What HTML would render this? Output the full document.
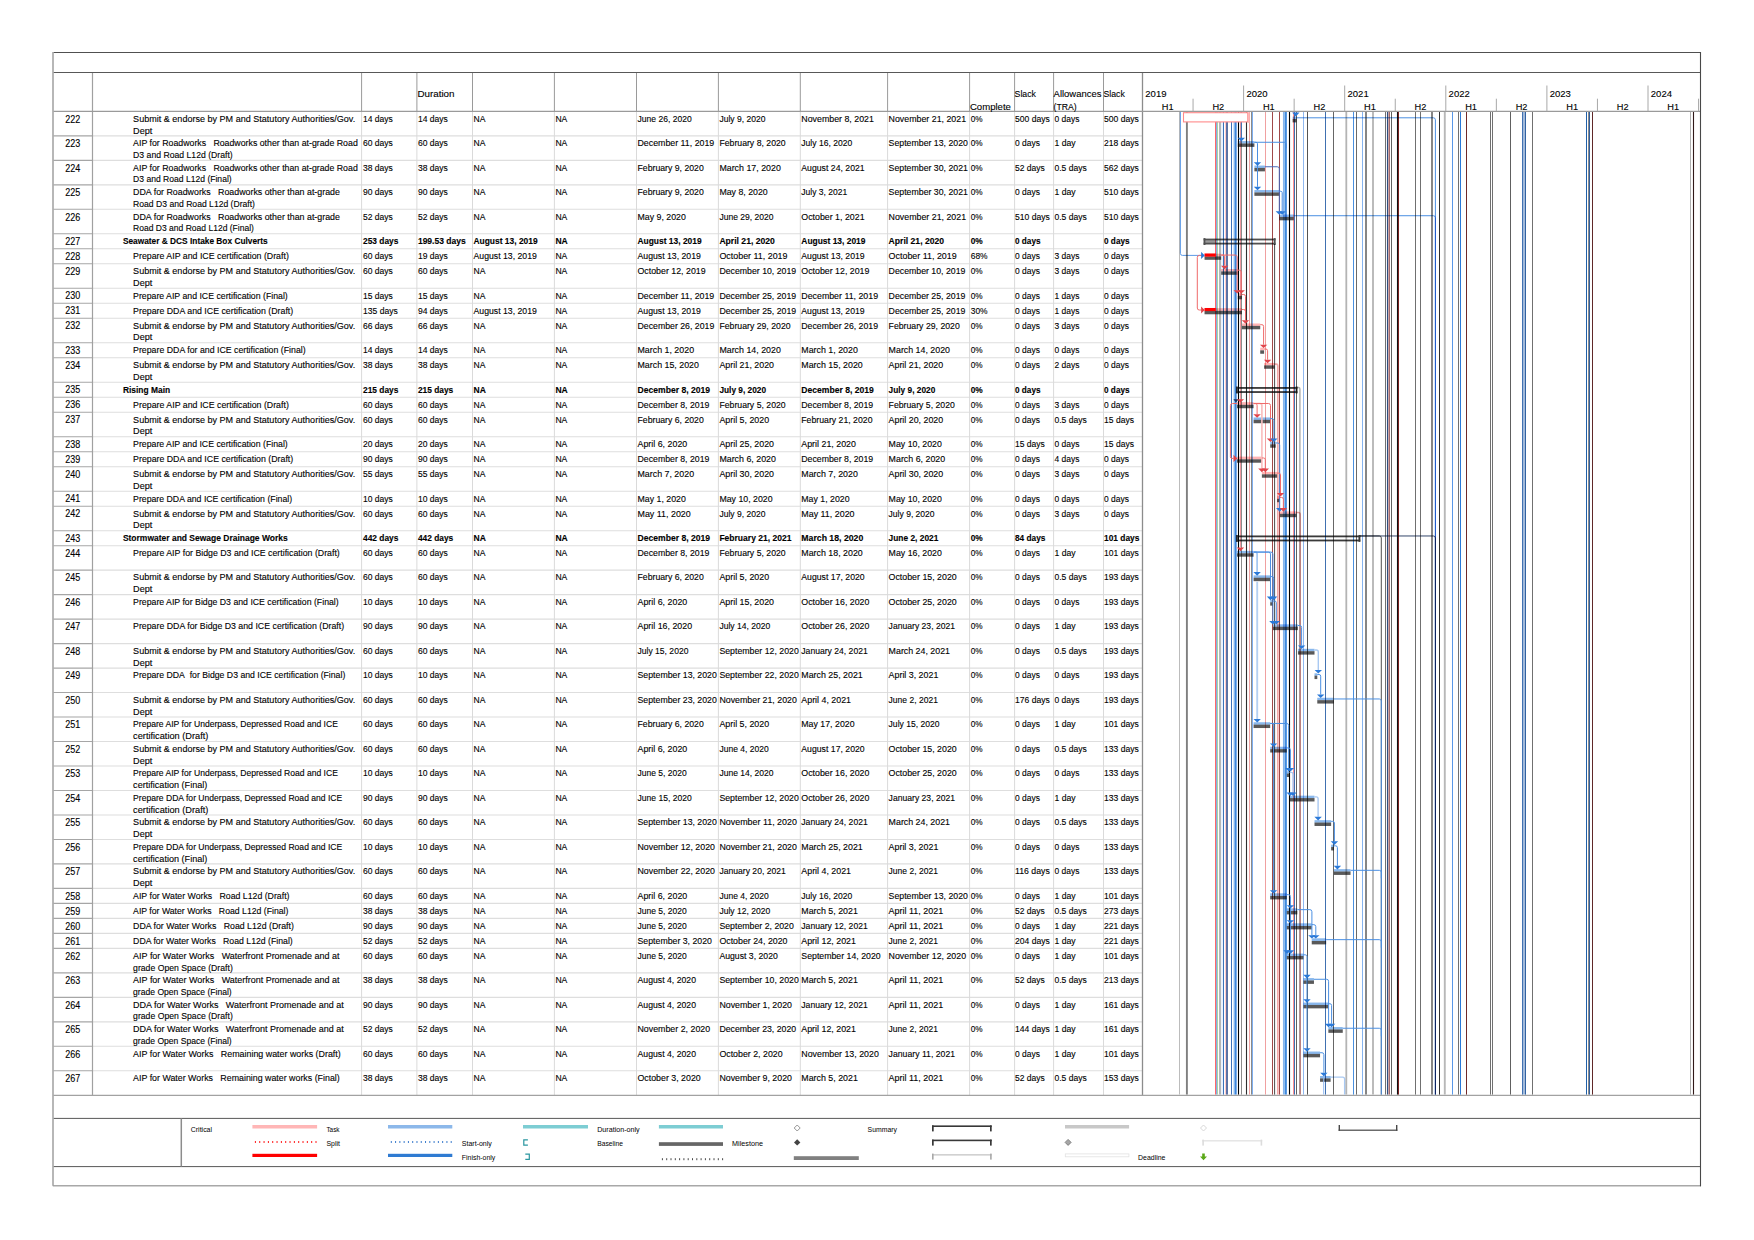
<!DOCTYPE html>
<html lang="en">
<head>
<meta charset="utf-8">
<title>Gantt chart</title>
<style>
html,body{margin:0;padding:0;background:#fff;}
body{width:1754px;height:1240px;overflow:hidden;}
svg{display:block;position:absolute;left:0;top:0;}
text{font-family:"Liberation Sans",Arial,sans-serif;fill:#000;white-space:pre;stroke:#000;stroke-width:0.12px;}
text.lg{stroke:none;}
</style>
</head>
<body>
<svg width="1754" height="1240" viewBox="0 0 1754 1240">
<defs><clipPath id="gc"><rect x="1143.1" y="112.0" width="557.4" height="982.8"/></clipPath></defs>
<rect x="0" y="0" width="1754" height="1240" fill="#ffffff"/>
<line x1="53.50" y1="135.88" x2="92.50" y2="135.88" stroke="#a6a6a6" stroke-width="1.1"/>
<line x1="92.50" y1="135.88" x2="1142.50" y2="135.88" stroke="#dedede" stroke-width="1.1"/>
<line x1="53.50" y1="160.36" x2="92.50" y2="160.36" stroke="#a6a6a6" stroke-width="1.1"/>
<line x1="92.50" y1="160.36" x2="1142.50" y2="160.36" stroke="#dedede" stroke-width="1.1"/>
<line x1="53.50" y1="184.84" x2="92.50" y2="184.84" stroke="#a6a6a6" stroke-width="1.1"/>
<line x1="92.50" y1="184.84" x2="1142.50" y2="184.84" stroke="#dedede" stroke-width="1.1"/>
<line x1="53.50" y1="209.32" x2="92.50" y2="209.32" stroke="#a6a6a6" stroke-width="1.1"/>
<line x1="92.50" y1="209.32" x2="1142.50" y2="209.32" stroke="#dedede" stroke-width="1.1"/>
<line x1="53.50" y1="233.80" x2="92.50" y2="233.80" stroke="#a6a6a6" stroke-width="1.1"/>
<line x1="92.50" y1="233.80" x2="1142.50" y2="233.80" stroke="#dedede" stroke-width="1.1"/>
<line x1="53.50" y1="248.80" x2="92.50" y2="248.80" stroke="#a6a6a6" stroke-width="1.1"/>
<line x1="92.50" y1="248.80" x2="1142.50" y2="248.80" stroke="#dedede" stroke-width="1.1"/>
<line x1="53.50" y1="263.80" x2="92.50" y2="263.80" stroke="#a6a6a6" stroke-width="1.1"/>
<line x1="92.50" y1="263.80" x2="1142.50" y2="263.80" stroke="#dedede" stroke-width="1.1"/>
<line x1="53.50" y1="288.28" x2="92.50" y2="288.28" stroke="#a6a6a6" stroke-width="1.1"/>
<line x1="92.50" y1="288.28" x2="1142.50" y2="288.28" stroke="#dedede" stroke-width="1.1"/>
<line x1="53.50" y1="303.28" x2="92.50" y2="303.28" stroke="#a6a6a6" stroke-width="1.1"/>
<line x1="92.50" y1="303.28" x2="1142.50" y2="303.28" stroke="#dedede" stroke-width="1.1"/>
<line x1="53.50" y1="318.28" x2="92.50" y2="318.28" stroke="#a6a6a6" stroke-width="1.1"/>
<line x1="92.50" y1="318.28" x2="1142.50" y2="318.28" stroke="#dedede" stroke-width="1.1"/>
<line x1="53.50" y1="342.76" x2="92.50" y2="342.76" stroke="#a6a6a6" stroke-width="1.1"/>
<line x1="92.50" y1="342.76" x2="1142.50" y2="342.76" stroke="#dedede" stroke-width="1.1"/>
<line x1="53.50" y1="357.76" x2="92.50" y2="357.76" stroke="#a6a6a6" stroke-width="1.1"/>
<line x1="92.50" y1="357.76" x2="1142.50" y2="357.76" stroke="#dedede" stroke-width="1.1"/>
<line x1="53.50" y1="382.24" x2="92.50" y2="382.24" stroke="#a6a6a6" stroke-width="1.1"/>
<line x1="92.50" y1="382.24" x2="1142.50" y2="382.24" stroke="#dedede" stroke-width="1.1"/>
<line x1="53.50" y1="397.24" x2="92.50" y2="397.24" stroke="#a6a6a6" stroke-width="1.1"/>
<line x1="92.50" y1="397.24" x2="1142.50" y2="397.24" stroke="#dedede" stroke-width="1.1"/>
<line x1="53.50" y1="412.24" x2="92.50" y2="412.24" stroke="#a6a6a6" stroke-width="1.1"/>
<line x1="92.50" y1="412.24" x2="1142.50" y2="412.24" stroke="#dedede" stroke-width="1.1"/>
<line x1="53.50" y1="436.72" x2="92.50" y2="436.72" stroke="#a6a6a6" stroke-width="1.1"/>
<line x1="92.50" y1="436.72" x2="1142.50" y2="436.72" stroke="#dedede" stroke-width="1.1"/>
<line x1="53.50" y1="451.72" x2="92.50" y2="451.72" stroke="#a6a6a6" stroke-width="1.1"/>
<line x1="92.50" y1="451.72" x2="1142.50" y2="451.72" stroke="#dedede" stroke-width="1.1"/>
<line x1="53.50" y1="466.72" x2="92.50" y2="466.72" stroke="#a6a6a6" stroke-width="1.1"/>
<line x1="92.50" y1="466.72" x2="1142.50" y2="466.72" stroke="#dedede" stroke-width="1.1"/>
<line x1="53.50" y1="491.20" x2="92.50" y2="491.20" stroke="#a6a6a6" stroke-width="1.1"/>
<line x1="92.50" y1="491.20" x2="1142.50" y2="491.20" stroke="#dedede" stroke-width="1.1"/>
<line x1="53.50" y1="506.20" x2="92.50" y2="506.20" stroke="#a6a6a6" stroke-width="1.1"/>
<line x1="92.50" y1="506.20" x2="1142.50" y2="506.20" stroke="#dedede" stroke-width="1.1"/>
<line x1="53.50" y1="530.68" x2="92.50" y2="530.68" stroke="#a6a6a6" stroke-width="1.1"/>
<line x1="92.50" y1="530.68" x2="1142.50" y2="530.68" stroke="#dedede" stroke-width="1.1"/>
<line x1="53.50" y1="545.68" x2="92.50" y2="545.68" stroke="#a6a6a6" stroke-width="1.1"/>
<line x1="92.50" y1="545.68" x2="1142.50" y2="545.68" stroke="#dedede" stroke-width="1.1"/>
<line x1="53.50" y1="570.16" x2="92.50" y2="570.16" stroke="#a6a6a6" stroke-width="1.1"/>
<line x1="92.50" y1="570.16" x2="1142.50" y2="570.16" stroke="#dedede" stroke-width="1.1"/>
<line x1="53.50" y1="594.64" x2="92.50" y2="594.64" stroke="#a6a6a6" stroke-width="1.1"/>
<line x1="92.50" y1="594.64" x2="1142.50" y2="594.64" stroke="#dedede" stroke-width="1.1"/>
<line x1="53.50" y1="619.12" x2="92.50" y2="619.12" stroke="#a6a6a6" stroke-width="1.1"/>
<line x1="92.50" y1="619.12" x2="1142.50" y2="619.12" stroke="#dedede" stroke-width="1.1"/>
<line x1="53.50" y1="643.60" x2="92.50" y2="643.60" stroke="#a6a6a6" stroke-width="1.1"/>
<line x1="92.50" y1="643.60" x2="1142.50" y2="643.60" stroke="#dedede" stroke-width="1.1"/>
<line x1="53.50" y1="668.08" x2="92.50" y2="668.08" stroke="#a6a6a6" stroke-width="1.1"/>
<line x1="92.50" y1="668.08" x2="1142.50" y2="668.08" stroke="#dedede" stroke-width="1.1"/>
<line x1="53.50" y1="692.56" x2="92.50" y2="692.56" stroke="#a6a6a6" stroke-width="1.1"/>
<line x1="92.50" y1="692.56" x2="1142.50" y2="692.56" stroke="#dedede" stroke-width="1.1"/>
<line x1="53.50" y1="717.04" x2="92.50" y2="717.04" stroke="#a6a6a6" stroke-width="1.1"/>
<line x1="92.50" y1="717.04" x2="1142.50" y2="717.04" stroke="#dedede" stroke-width="1.1"/>
<line x1="53.50" y1="741.52" x2="92.50" y2="741.52" stroke="#a6a6a6" stroke-width="1.1"/>
<line x1="92.50" y1="741.52" x2="1142.50" y2="741.52" stroke="#dedede" stroke-width="1.1"/>
<line x1="53.50" y1="766.00" x2="92.50" y2="766.00" stroke="#a6a6a6" stroke-width="1.1"/>
<line x1="92.50" y1="766.00" x2="1142.50" y2="766.00" stroke="#dedede" stroke-width="1.1"/>
<line x1="53.50" y1="790.48" x2="92.50" y2="790.48" stroke="#a6a6a6" stroke-width="1.1"/>
<line x1="92.50" y1="790.48" x2="1142.50" y2="790.48" stroke="#dedede" stroke-width="1.1"/>
<line x1="53.50" y1="814.96" x2="92.50" y2="814.96" stroke="#a6a6a6" stroke-width="1.1"/>
<line x1="92.50" y1="814.96" x2="1142.50" y2="814.96" stroke="#dedede" stroke-width="1.1"/>
<line x1="53.50" y1="839.44" x2="92.50" y2="839.44" stroke="#a6a6a6" stroke-width="1.1"/>
<line x1="92.50" y1="839.44" x2="1142.50" y2="839.44" stroke="#dedede" stroke-width="1.1"/>
<line x1="53.50" y1="863.92" x2="92.50" y2="863.92" stroke="#a6a6a6" stroke-width="1.1"/>
<line x1="92.50" y1="863.92" x2="1142.50" y2="863.92" stroke="#dedede" stroke-width="1.1"/>
<line x1="53.50" y1="888.40" x2="92.50" y2="888.40" stroke="#a6a6a6" stroke-width="1.1"/>
<line x1="92.50" y1="888.40" x2="1142.50" y2="888.40" stroke="#dedede" stroke-width="1.1"/>
<line x1="53.50" y1="903.40" x2="92.50" y2="903.40" stroke="#a6a6a6" stroke-width="1.1"/>
<line x1="92.50" y1="903.40" x2="1142.50" y2="903.40" stroke="#dedede" stroke-width="1.1"/>
<line x1="53.50" y1="918.40" x2="92.50" y2="918.40" stroke="#a6a6a6" stroke-width="1.1"/>
<line x1="92.50" y1="918.40" x2="1142.50" y2="918.40" stroke="#dedede" stroke-width="1.1"/>
<line x1="53.50" y1="933.40" x2="92.50" y2="933.40" stroke="#a6a6a6" stroke-width="1.1"/>
<line x1="92.50" y1="933.40" x2="1142.50" y2="933.40" stroke="#dedede" stroke-width="1.1"/>
<line x1="53.50" y1="948.40" x2="92.50" y2="948.40" stroke="#a6a6a6" stroke-width="1.1"/>
<line x1="92.50" y1="948.40" x2="1142.50" y2="948.40" stroke="#dedede" stroke-width="1.1"/>
<line x1="53.50" y1="972.88" x2="92.50" y2="972.88" stroke="#a6a6a6" stroke-width="1.1"/>
<line x1="92.50" y1="972.88" x2="1142.50" y2="972.88" stroke="#dedede" stroke-width="1.1"/>
<line x1="53.50" y1="997.36" x2="92.50" y2="997.36" stroke="#a6a6a6" stroke-width="1.1"/>
<line x1="92.50" y1="997.36" x2="1142.50" y2="997.36" stroke="#dedede" stroke-width="1.1"/>
<line x1="53.50" y1="1021.84" x2="92.50" y2="1021.84" stroke="#a6a6a6" stroke-width="1.1"/>
<line x1="92.50" y1="1021.84" x2="1142.50" y2="1021.84" stroke="#dedede" stroke-width="1.1"/>
<line x1="53.50" y1="1046.32" x2="92.50" y2="1046.32" stroke="#a6a6a6" stroke-width="1.1"/>
<line x1="92.50" y1="1046.32" x2="1142.50" y2="1046.32" stroke="#dedede" stroke-width="1.1"/>
<line x1="53.50" y1="1070.80" x2="92.50" y2="1070.80" stroke="#a6a6a6" stroke-width="1.1"/>
<line x1="92.50" y1="1070.80" x2="1142.50" y2="1070.80" stroke="#dedede" stroke-width="1.1"/>
<line x1="361.60" y1="111.40" x2="361.60" y2="1095.30" stroke="#dadada" stroke-width="1.0"/>
<line x1="416.90" y1="111.40" x2="416.90" y2="1095.30" stroke="#dadada" stroke-width="1.0"/>
<line x1="472.50" y1="111.40" x2="472.50" y2="1095.30" stroke="#dadada" stroke-width="1.0"/>
<line x1="554.40" y1="111.40" x2="554.40" y2="1095.30" stroke="#dadada" stroke-width="1.0"/>
<line x1="636.50" y1="111.40" x2="636.50" y2="1095.30" stroke="#dadada" stroke-width="1.0"/>
<line x1="718.40" y1="111.40" x2="718.40" y2="1095.30" stroke="#dadada" stroke-width="1.0"/>
<line x1="800.30" y1="111.40" x2="800.30" y2="1095.30" stroke="#dadada" stroke-width="1.0"/>
<line x1="887.60" y1="111.40" x2="887.60" y2="1095.30" stroke="#dadada" stroke-width="1.0"/>
<line x1="969.60" y1="111.40" x2="969.60" y2="1095.30" stroke="#dadada" stroke-width="1.0"/>
<line x1="1014.60" y1="111.40" x2="1014.60" y2="1095.30" stroke="#dadada" stroke-width="1.0"/>
<line x1="1053.60" y1="111.40" x2="1053.60" y2="1095.30" stroke="#dadada" stroke-width="1.0"/>
<line x1="1103.50" y1="111.40" x2="1103.50" y2="1095.30" stroke="#dadada" stroke-width="1.0"/>
<line x1="361.60" y1="72.50" x2="361.60" y2="111.40" stroke="#9a9a9a" stroke-width="1.0"/>
<line x1="416.90" y1="72.50" x2="416.90" y2="111.40" stroke="#9a9a9a" stroke-width="1.0"/>
<line x1="472.50" y1="72.50" x2="472.50" y2="111.40" stroke="#9a9a9a" stroke-width="1.0"/>
<line x1="554.40" y1="72.50" x2="554.40" y2="111.40" stroke="#9a9a9a" stroke-width="1.0"/>
<line x1="636.50" y1="72.50" x2="636.50" y2="111.40" stroke="#9a9a9a" stroke-width="1.0"/>
<line x1="718.40" y1="72.50" x2="718.40" y2="111.40" stroke="#9a9a9a" stroke-width="1.0"/>
<line x1="800.30" y1="72.50" x2="800.30" y2="111.40" stroke="#9a9a9a" stroke-width="1.0"/>
<line x1="887.60" y1="72.50" x2="887.60" y2="111.40" stroke="#9a9a9a" stroke-width="1.0"/>
<line x1="969.60" y1="72.50" x2="969.60" y2="111.40" stroke="#9a9a9a" stroke-width="1.0"/>
<line x1="1014.60" y1="72.50" x2="1014.60" y2="111.40" stroke="#9a9a9a" stroke-width="1.0"/>
<line x1="1053.60" y1="72.50" x2="1053.60" y2="111.40" stroke="#9a9a9a" stroke-width="1.0"/>
<line x1="1103.50" y1="72.50" x2="1103.50" y2="111.40" stroke="#9a9a9a" stroke-width="1.0"/>
<line x1="92.50" y1="72.50" x2="92.50" y2="1095.30" stroke="#a0a0a0" stroke-width="1.2"/>
<line x1="1142.50" y1="72.50" x2="1142.50" y2="1095.30" stroke="#8c8c8c" stroke-width="1.3"/>
<line x1="53.50" y1="52.50" x2="1700.50" y2="52.50" stroke="#505050" stroke-width="1.1"/>
<line x1="53.50" y1="72.50" x2="1700.50" y2="72.50" stroke="#585858" stroke-width="1.2"/>
<line x1="53.50" y1="111.40" x2="1700.50" y2="111.40" stroke="#9a9a9a" stroke-width="1.2"/>
<line x1="53.50" y1="1095.30" x2="1700.50" y2="1095.30" stroke="#a2a2a2" stroke-width="1.2"/>
<line x1="53.50" y1="1118.40" x2="1700.50" y2="1118.40" stroke="#585858" stroke-width="1.0"/>
<line x1="53.50" y1="1166.60" x2="1700.50" y2="1166.60" stroke="#585858" stroke-width="1.0"/>
<line x1="52.80" y1="1185.70" x2="1701.00" y2="1185.70" stroke="#a8a8a8" stroke-width="1.6"/>
<line x1="53.00" y1="52.00" x2="53.00" y2="1185.70" stroke="#9c9c9c" stroke-width="1.45"/>
<line x1="1700.50" y1="52.00" x2="1700.50" y2="1186.20" stroke="#484848" stroke-width="1.1"/>
<line x1="181.30" y1="1118.40" x2="181.30" y2="1166.60" stroke="#8c8c8c" stroke-width="1.5"/>
<line x1="1243.60" y1="85.50" x2="1243.60" y2="111.40" stroke="#a8a8a8" stroke-width="1.0"/>
<line x1="1344.70" y1="85.50" x2="1344.70" y2="111.40" stroke="#a8a8a8" stroke-width="1.0"/>
<line x1="1445.80" y1="85.50" x2="1445.80" y2="111.40" stroke="#a8a8a8" stroke-width="1.0"/>
<line x1="1546.90" y1="85.50" x2="1546.90" y2="111.40" stroke="#a8a8a8" stroke-width="1.0"/>
<line x1="1648.00" y1="85.50" x2="1648.00" y2="111.40" stroke="#a8a8a8" stroke-width="1.0"/>
<line x1="1193.05" y1="98.70" x2="1193.05" y2="111.40" stroke="#a8a8a8" stroke-width="1.0"/>
<line x1="1294.15" y1="98.70" x2="1294.15" y2="111.40" stroke="#a8a8a8" stroke-width="1.0"/>
<line x1="1395.25" y1="98.70" x2="1395.25" y2="111.40" stroke="#a8a8a8" stroke-width="1.0"/>
<line x1="1496.35" y1="98.70" x2="1496.35" y2="111.40" stroke="#a8a8a8" stroke-width="1.0"/>
<line x1="1597.45" y1="98.70" x2="1597.45" y2="111.40" stroke="#a8a8a8" stroke-width="1.0"/>
<line x1="1698.55" y1="98.70" x2="1698.55" y2="111.40" stroke="#a8a8a8" stroke-width="1.0"/>
<text x="417.40" y="97.00" font-size="10.00" textLength="37.08" lengthAdjust="spacingAndGlyphs" transform="matrix(1 0 0 0.83 0 16.490)">Duration</text>
<text x="969.90" y="109.80" font-size="10.00" textLength="41.05" lengthAdjust="spacingAndGlyphs" transform="matrix(1 0 0 0.83 0 18.666)">Complete</text>
<text x="1014.60" y="97.00" font-size="10.00" textLength="21.37" lengthAdjust="spacingAndGlyphs" transform="matrix(1 0 0 0.83 0 16.490)">Slack</text>
<text x="1053.60" y="97.00" font-size="10.00" textLength="47.87" lengthAdjust="spacingAndGlyphs" transform="matrix(1 0 0 0.83 0 16.490)">Allowances</text>
<text x="1053.60" y="109.80" font-size="10.00" textLength="23.15" lengthAdjust="spacingAndGlyphs" transform="matrix(1 0 0 0.83 0 18.666)">(TRA)</text>
<text x="1103.50" y="97.00" font-size="10.00" textLength="21.37" lengthAdjust="spacingAndGlyphs" transform="matrix(1 0 0 0.83 0 16.490)">Slack</text>
<text x="1145.30" y="97.00" font-size="10.00" textLength="21.19" lengthAdjust="spacingAndGlyphs" transform="matrix(1 0 0 0.83 0 16.490)">2019</text>
<text x="1161.87" y="109.80" font-size="10.00" textLength="11.81" lengthAdjust="spacingAndGlyphs" transform="matrix(1 0 0 0.83 0 18.666)">H1</text>
<text x="1212.42" y="109.80" font-size="10.00" textLength="11.81" lengthAdjust="spacingAndGlyphs" transform="matrix(1 0 0 0.83 0 18.666)">H2</text>
<text x="1246.40" y="97.00" font-size="10.00" textLength="21.19" lengthAdjust="spacingAndGlyphs" transform="matrix(1 0 0 0.83 0 16.490)">2020</text>
<text x="1262.97" y="109.80" font-size="10.00" textLength="11.81" lengthAdjust="spacingAndGlyphs" transform="matrix(1 0 0 0.83 0 18.666)">H1</text>
<text x="1313.52" y="109.80" font-size="10.00" textLength="11.81" lengthAdjust="spacingAndGlyphs" transform="matrix(1 0 0 0.83 0 18.666)">H2</text>
<text x="1347.50" y="97.00" font-size="10.00" textLength="21.19" lengthAdjust="spacingAndGlyphs" transform="matrix(1 0 0 0.83 0 16.490)">2021</text>
<text x="1364.07" y="109.80" font-size="10.00" textLength="11.81" lengthAdjust="spacingAndGlyphs" transform="matrix(1 0 0 0.83 0 18.666)">H1</text>
<text x="1414.62" y="109.80" font-size="10.00" textLength="11.81" lengthAdjust="spacingAndGlyphs" transform="matrix(1 0 0 0.83 0 18.666)">H2</text>
<text x="1448.60" y="97.00" font-size="10.00" textLength="21.19" lengthAdjust="spacingAndGlyphs" transform="matrix(1 0 0 0.83 0 16.490)">2022</text>
<text x="1465.17" y="109.80" font-size="10.00" textLength="11.81" lengthAdjust="spacingAndGlyphs" transform="matrix(1 0 0 0.83 0 18.666)">H1</text>
<text x="1515.72" y="109.80" font-size="10.00" textLength="11.81" lengthAdjust="spacingAndGlyphs" transform="matrix(1 0 0 0.83 0 18.666)">H2</text>
<text x="1549.70" y="97.00" font-size="10.00" textLength="21.19" lengthAdjust="spacingAndGlyphs" transform="matrix(1 0 0 0.83 0 16.490)">2023</text>
<text x="1566.27" y="109.80" font-size="10.00" textLength="11.81" lengthAdjust="spacingAndGlyphs" transform="matrix(1 0 0 0.83 0 18.666)">H1</text>
<text x="1616.82" y="109.80" font-size="10.00" textLength="11.81" lengthAdjust="spacingAndGlyphs" transform="matrix(1 0 0 0.83 0 18.666)">H2</text>
<text x="1650.80" y="97.00" font-size="10.00" textLength="21.19" lengthAdjust="spacingAndGlyphs" transform="matrix(1 0 0 0.83 0 16.490)">2024</text>
<text x="1667.37" y="109.80" font-size="10.00" textLength="11.81" lengthAdjust="spacingAndGlyphs" transform="matrix(1 0 0 0.83 0 18.666)">H1</text>
<text x="65.20" y="122.60" font-size="10.00" textLength="14.99" lengthAdjust="spacingAndGlyphs" transform="matrix(1 0 0 1.04 0 -4.904)">222</text>
<text x="133.10" y="121.70" font-size="9.08" textLength="222.11" lengthAdjust="spacingAndGlyphs">Submit &amp; endorse by PM and Statutory Authorities/Gov.</text>
<text x="133.10" y="133.50" font-size="9.08" textLength="19.22" lengthAdjust="spacingAndGlyphs">Dept</text>
<text x="363.00" y="121.70" font-size="9.08" textLength="29.87" lengthAdjust="spacingAndGlyphs">14 days</text>
<text x="417.90" y="121.70" font-size="9.08" textLength="29.87" lengthAdjust="spacingAndGlyphs">14 days</text>
<text x="473.50" y="121.70" font-size="9.08" textLength="11.95" lengthAdjust="spacingAndGlyphs">NA</text>
<text x="555.40" y="121.70" font-size="9.08" textLength="11.95" lengthAdjust="spacingAndGlyphs">NA</text>
<text x="637.50" y="121.70" font-size="8.99" textLength="54.21" lengthAdjust="spacingAndGlyphs">June 26, 2020</text>
<text x="719.40" y="121.70" font-size="8.99" textLength="46.01" lengthAdjust="spacingAndGlyphs">July 9, 2020</text>
<text x="801.30" y="121.70" font-size="8.99" textLength="72.61" lengthAdjust="spacingAndGlyphs">November 8, 2021</text>
<text x="888.60" y="121.70" font-size="8.99" textLength="77.50" lengthAdjust="spacingAndGlyphs">November 21, 2021</text>
<text x="970.70" y="121.70" font-size="9.08" textLength="11.92" lengthAdjust="spacingAndGlyphs">0%</text>
<text x="1015.00" y="121.70" font-size="9.08" textLength="34.81" lengthAdjust="spacingAndGlyphs">500 days</text>
<text x="1054.45" y="121.70" font-size="9.08" textLength="24.92" lengthAdjust="spacingAndGlyphs">0 days</text>
<text x="1104.05" y="121.70" font-size="9.08" textLength="34.81" lengthAdjust="spacingAndGlyphs">500 days</text>
<text x="65.20" y="147.08" font-size="10.00" textLength="14.99" lengthAdjust="spacingAndGlyphs" transform="matrix(1 0 0 1.04 0 -5.883)">223</text>
<text x="133.10" y="146.18" font-size="9.08" textLength="224.68" lengthAdjust="spacingAndGlyphs">AIP for Roadworks   Roadworks other than at-grade Road</text>
<text x="133.10" y="157.98" font-size="9.08" textLength="99.64" lengthAdjust="spacingAndGlyphs">D3 and Road L12d (Draft)</text>
<text x="363.00" y="146.18" font-size="9.08" textLength="29.87" lengthAdjust="spacingAndGlyphs">60 days</text>
<text x="417.90" y="146.18" font-size="9.08" textLength="29.87" lengthAdjust="spacingAndGlyphs">60 days</text>
<text x="473.50" y="146.18" font-size="9.08" textLength="11.95" lengthAdjust="spacingAndGlyphs">NA</text>
<text x="555.40" y="146.18" font-size="9.08" textLength="11.95" lengthAdjust="spacingAndGlyphs">NA</text>
<text x="637.50" y="146.18" font-size="8.99" textLength="76.78" lengthAdjust="spacingAndGlyphs">December 11, 2019</text>
<text x="719.40" y="146.18" font-size="8.99" textLength="66.31" lengthAdjust="spacingAndGlyphs">February 8, 2020</text>
<text x="801.30" y="146.18" font-size="8.99" textLength="50.91" lengthAdjust="spacingAndGlyphs">July 16, 2020</text>
<text x="888.60" y="146.18" font-size="8.99" textLength="79.36" lengthAdjust="spacingAndGlyphs">September 13, 2020</text>
<text x="970.70" y="146.18" font-size="9.08" textLength="11.92" lengthAdjust="spacingAndGlyphs">0%</text>
<text x="1015.00" y="146.18" font-size="9.08" textLength="24.92" lengthAdjust="spacingAndGlyphs">0 days</text>
<text x="1054.45" y="146.18" font-size="9.08" textLength="21.19" lengthAdjust="spacingAndGlyphs">1 day</text>
<text x="1104.05" y="146.18" font-size="9.08" textLength="34.81" lengthAdjust="spacingAndGlyphs">218 days</text>
<text x="65.20" y="171.56" font-size="10.00" textLength="14.99" lengthAdjust="spacingAndGlyphs" transform="matrix(1 0 0 1.04 0 -6.862)">224</text>
<text x="133.10" y="170.66" font-size="9.08" textLength="224.68" lengthAdjust="spacingAndGlyphs">AIP for Roadworks   Roadworks other than at-grade Road</text>
<text x="133.10" y="182.46" font-size="9.08" textLength="98.57" lengthAdjust="spacingAndGlyphs">D3 and Road L12d (Final)</text>
<text x="363.00" y="170.66" font-size="9.08" textLength="29.87" lengthAdjust="spacingAndGlyphs">38 days</text>
<text x="417.90" y="170.66" font-size="9.08" textLength="29.87" lengthAdjust="spacingAndGlyphs">38 days</text>
<text x="473.50" y="170.66" font-size="9.08" textLength="11.95" lengthAdjust="spacingAndGlyphs">NA</text>
<text x="555.40" y="170.66" font-size="9.08" textLength="11.95" lengthAdjust="spacingAndGlyphs">NA</text>
<text x="637.50" y="170.66" font-size="8.99" textLength="66.31" lengthAdjust="spacingAndGlyphs">February 9, 2020</text>
<text x="719.40" y="170.66" font-size="8.99" textLength="61.44" lengthAdjust="spacingAndGlyphs">March 17, 2020</text>
<text x="801.30" y="170.66" font-size="8.99" textLength="63.36" lengthAdjust="spacingAndGlyphs">August 24, 2021</text>
<text x="888.60" y="170.66" font-size="8.99" textLength="79.36" lengthAdjust="spacingAndGlyphs">September 30, 2021</text>
<text x="970.70" y="170.66" font-size="9.08" textLength="11.92" lengthAdjust="spacingAndGlyphs">0%</text>
<text x="1015.00" y="170.66" font-size="9.08" textLength="29.87" lengthAdjust="spacingAndGlyphs">52 days</text>
<text x="1054.45" y="170.66" font-size="9.08" textLength="32.33" lengthAdjust="spacingAndGlyphs">0.5 days</text>
<text x="1104.05" y="170.66" font-size="9.08" textLength="34.81" lengthAdjust="spacingAndGlyphs">562 days</text>
<text x="65.20" y="196.04" font-size="10.00" textLength="14.99" lengthAdjust="spacingAndGlyphs" transform="matrix(1 0 0 1.04 0 -7.842)">225</text>
<text x="133.10" y="195.14" font-size="9.08" textLength="206.79" lengthAdjust="spacingAndGlyphs">DDA for Roadworks   Roadworks other than at-grade</text>
<text x="133.10" y="206.94" font-size="9.08" textLength="121.89" lengthAdjust="spacingAndGlyphs">Road D3 and Road L12d (Draft)</text>
<text x="363.00" y="195.14" font-size="9.08" textLength="29.87" lengthAdjust="spacingAndGlyphs">90 days</text>
<text x="417.90" y="195.14" font-size="9.08" textLength="29.87" lengthAdjust="spacingAndGlyphs">90 days</text>
<text x="473.50" y="195.14" font-size="9.08" textLength="11.95" lengthAdjust="spacingAndGlyphs">NA</text>
<text x="555.40" y="195.14" font-size="9.08" textLength="11.95" lengthAdjust="spacingAndGlyphs">NA</text>
<text x="637.50" y="195.14" font-size="8.99" textLength="66.31" lengthAdjust="spacingAndGlyphs">February 9, 2020</text>
<text x="719.40" y="195.14" font-size="8.99" textLength="48.35" lengthAdjust="spacingAndGlyphs">May 8, 2020</text>
<text x="801.30" y="195.14" font-size="8.99" textLength="46.01" lengthAdjust="spacingAndGlyphs">July 3, 2021</text>
<text x="888.60" y="195.14" font-size="8.99" textLength="79.36" lengthAdjust="spacingAndGlyphs">September 30, 2021</text>
<text x="970.70" y="195.14" font-size="9.08" textLength="11.92" lengthAdjust="spacingAndGlyphs">0%</text>
<text x="1015.00" y="195.14" font-size="9.08" textLength="24.92" lengthAdjust="spacingAndGlyphs">0 days</text>
<text x="1054.45" y="195.14" font-size="9.08" textLength="21.19" lengthAdjust="spacingAndGlyphs">1 day</text>
<text x="1104.05" y="195.14" font-size="9.08" textLength="34.81" lengthAdjust="spacingAndGlyphs">510 days</text>
<text x="65.20" y="220.52" font-size="10.00" textLength="14.99" lengthAdjust="spacingAndGlyphs" transform="matrix(1 0 0 1.04 0 -8.821)">226</text>
<text x="133.10" y="219.62" font-size="9.08" textLength="206.79" lengthAdjust="spacingAndGlyphs">DDA for Roadworks   Roadworks other than at-grade</text>
<text x="133.10" y="231.42" font-size="9.08" textLength="120.82" lengthAdjust="spacingAndGlyphs">Road D3 and Road L12d (Final)</text>
<text x="363.00" y="219.62" font-size="9.08" textLength="29.87" lengthAdjust="spacingAndGlyphs">52 days</text>
<text x="417.90" y="219.62" font-size="9.08" textLength="29.87" lengthAdjust="spacingAndGlyphs">52 days</text>
<text x="473.50" y="219.62" font-size="9.08" textLength="11.95" lengthAdjust="spacingAndGlyphs">NA</text>
<text x="555.40" y="219.62" font-size="9.08" textLength="11.95" lengthAdjust="spacingAndGlyphs">NA</text>
<text x="637.50" y="219.62" font-size="8.99" textLength="48.35" lengthAdjust="spacingAndGlyphs">May 9, 2020</text>
<text x="719.40" y="219.62" font-size="8.99" textLength="54.21" lengthAdjust="spacingAndGlyphs">June 29, 2020</text>
<text x="801.30" y="219.62" font-size="8.99" textLength="63.24" lengthAdjust="spacingAndGlyphs">October 1, 2021</text>
<text x="888.60" y="219.62" font-size="8.99" textLength="77.50" lengthAdjust="spacingAndGlyphs">November 21, 2021</text>
<text x="970.70" y="219.62" font-size="9.08" textLength="11.92" lengthAdjust="spacingAndGlyphs">0%</text>
<text x="1015.00" y="219.62" font-size="9.08" textLength="34.81" lengthAdjust="spacingAndGlyphs">510 days</text>
<text x="1054.45" y="219.62" font-size="9.08" textLength="32.33" lengthAdjust="spacingAndGlyphs">0.5 days</text>
<text x="1104.05" y="219.62" font-size="9.08" textLength="34.81" lengthAdjust="spacingAndGlyphs">510 days</text>
<text x="65.20" y="245.00" font-size="10.00" textLength="14.99" lengthAdjust="spacingAndGlyphs" transform="matrix(1 0 0 1.04 0 -9.800)">227</text>
<text x="122.90" y="244.10" font-size="9.08" textLength="144.83" lengthAdjust="spacingAndGlyphs" font-weight="700">Seawater &amp; DCS Intake Box Culverts</text>
<text x="363.00" y="244.10" font-size="9.08" textLength="35.38" lengthAdjust="spacingAndGlyphs" font-weight="700">253 days</text>
<text x="417.90" y="244.10" font-size="9.08" textLength="47.88" lengthAdjust="spacingAndGlyphs" font-weight="700">199.53 days</text>
<text x="473.50" y="244.10" font-size="8.99" textLength="64.15" lengthAdjust="spacingAndGlyphs" font-weight="700">August 13, 2019</text>
<text x="555.40" y="244.10" font-size="9.08" textLength="12.34" lengthAdjust="spacingAndGlyphs" font-weight="700">NA</text>
<text x="637.50" y="244.10" font-size="8.99" textLength="64.15" lengthAdjust="spacingAndGlyphs" font-weight="700">August 13, 2019</text>
<text x="719.40" y="244.10" font-size="8.99" textLength="55.47" lengthAdjust="spacingAndGlyphs" font-weight="700">April 21, 2020</text>
<text x="801.30" y="244.10" font-size="8.99" textLength="64.15" lengthAdjust="spacingAndGlyphs" font-weight="700">August 13, 2019</text>
<text x="888.60" y="244.10" font-size="8.99" textLength="55.47" lengthAdjust="spacingAndGlyphs" font-weight="700">April 21, 2020</text>
<text x="970.70" y="244.10" font-size="9.08" textLength="12.06" lengthAdjust="spacingAndGlyphs" font-weight="700">0%</text>
<text x="1015.00" y="244.10" font-size="9.08" textLength="25.49" lengthAdjust="spacingAndGlyphs" font-weight="700">0 days</text>
<text x="1104.05" y="244.10" font-size="9.08" textLength="25.49" lengthAdjust="spacingAndGlyphs" font-weight="700">0 days</text>
<text x="65.20" y="260.00" font-size="10.00" textLength="14.99" lengthAdjust="spacingAndGlyphs" transform="matrix(1 0 0 1.04 0 -10.400)">228</text>
<text x="133.10" y="259.10" font-size="9.08" textLength="155.73" lengthAdjust="spacingAndGlyphs">Prepare AIP and ICE certification (Draft)</text>
<text x="363.00" y="259.10" font-size="9.08" textLength="29.87" lengthAdjust="spacingAndGlyphs">60 days</text>
<text x="417.90" y="259.10" font-size="9.08" textLength="29.87" lengthAdjust="spacingAndGlyphs">19 days</text>
<text x="473.50" y="259.10" font-size="8.99" textLength="63.36" lengthAdjust="spacingAndGlyphs">August 13, 2019</text>
<text x="555.40" y="259.10" font-size="9.08" textLength="11.95" lengthAdjust="spacingAndGlyphs">NA</text>
<text x="637.50" y="259.10" font-size="8.99" textLength="63.36" lengthAdjust="spacingAndGlyphs">August 13, 2019</text>
<text x="719.40" y="259.10" font-size="8.99" textLength="68.14" lengthAdjust="spacingAndGlyphs">October 11, 2019</text>
<text x="801.30" y="259.10" font-size="8.99" textLength="63.36" lengthAdjust="spacingAndGlyphs">August 13, 2019</text>
<text x="888.60" y="259.10" font-size="8.99" textLength="68.14" lengthAdjust="spacingAndGlyphs">October 11, 2019</text>
<text x="970.70" y="259.10" font-size="9.08" textLength="16.87" lengthAdjust="spacingAndGlyphs">68%</text>
<text x="1015.00" y="259.10" font-size="9.08" textLength="24.92" lengthAdjust="spacingAndGlyphs">0 days</text>
<text x="1054.45" y="259.10" font-size="9.08" textLength="24.92" lengthAdjust="spacingAndGlyphs">3 days</text>
<text x="1104.05" y="259.10" font-size="9.08" textLength="24.92" lengthAdjust="spacingAndGlyphs">0 days</text>
<text x="65.20" y="275.00" font-size="10.00" textLength="14.99" lengthAdjust="spacingAndGlyphs" transform="matrix(1 0 0 1.04 0 -11.000)">229</text>
<text x="133.10" y="274.10" font-size="9.08" textLength="222.11" lengthAdjust="spacingAndGlyphs">Submit &amp; endorse by PM and Statutory Authorities/Gov.</text>
<text x="133.10" y="285.90" font-size="9.08" textLength="19.22" lengthAdjust="spacingAndGlyphs">Dept</text>
<text x="363.00" y="274.10" font-size="9.08" textLength="29.87" lengthAdjust="spacingAndGlyphs">60 days</text>
<text x="417.90" y="274.10" font-size="9.08" textLength="29.87" lengthAdjust="spacingAndGlyphs">60 days</text>
<text x="473.50" y="274.10" font-size="9.08" textLength="11.95" lengthAdjust="spacingAndGlyphs">NA</text>
<text x="555.40" y="274.10" font-size="9.08" textLength="11.95" lengthAdjust="spacingAndGlyphs">NA</text>
<text x="637.50" y="274.10" font-size="8.99" textLength="68.14" lengthAdjust="spacingAndGlyphs">October 12, 2019</text>
<text x="719.40" y="274.10" font-size="8.99" textLength="76.78" lengthAdjust="spacingAndGlyphs">December 10, 2019</text>
<text x="801.30" y="274.10" font-size="8.99" textLength="68.14" lengthAdjust="spacingAndGlyphs">October 12, 2019</text>
<text x="888.60" y="274.10" font-size="8.99" textLength="76.78" lengthAdjust="spacingAndGlyphs">December 10, 2019</text>
<text x="970.70" y="274.10" font-size="9.08" textLength="11.92" lengthAdjust="spacingAndGlyphs">0%</text>
<text x="1015.00" y="274.10" font-size="9.08" textLength="24.92" lengthAdjust="spacingAndGlyphs">0 days</text>
<text x="1054.45" y="274.10" font-size="9.08" textLength="24.92" lengthAdjust="spacingAndGlyphs">3 days</text>
<text x="1104.05" y="274.10" font-size="9.08" textLength="24.92" lengthAdjust="spacingAndGlyphs">0 days</text>
<text x="65.20" y="299.48" font-size="10.00" textLength="14.99" lengthAdjust="spacingAndGlyphs" transform="matrix(1 0 0 1.04 0 -11.979)">230</text>
<text x="133.10" y="298.58" font-size="9.08" textLength="154.66" lengthAdjust="spacingAndGlyphs">Prepare AIP and ICE certification (Final)</text>
<text x="363.00" y="298.58" font-size="9.08" textLength="29.87" lengthAdjust="spacingAndGlyphs">15 days</text>
<text x="417.90" y="298.58" font-size="9.08" textLength="29.87" lengthAdjust="spacingAndGlyphs">15 days</text>
<text x="473.50" y="298.58" font-size="9.08" textLength="11.95" lengthAdjust="spacingAndGlyphs">NA</text>
<text x="555.40" y="298.58" font-size="9.08" textLength="11.95" lengthAdjust="spacingAndGlyphs">NA</text>
<text x="637.50" y="298.58" font-size="8.99" textLength="76.78" lengthAdjust="spacingAndGlyphs">December 11, 2019</text>
<text x="719.40" y="298.58" font-size="8.99" textLength="76.78" lengthAdjust="spacingAndGlyphs">December 25, 2019</text>
<text x="801.30" y="298.58" font-size="8.99" textLength="76.78" lengthAdjust="spacingAndGlyphs">December 11, 2019</text>
<text x="888.60" y="298.58" font-size="8.99" textLength="76.78" lengthAdjust="spacingAndGlyphs">December 25, 2019</text>
<text x="970.70" y="298.58" font-size="9.08" textLength="11.92" lengthAdjust="spacingAndGlyphs">0%</text>
<text x="1015.00" y="298.58" font-size="9.08" textLength="24.92" lengthAdjust="spacingAndGlyphs">0 days</text>
<text x="1054.45" y="298.58" font-size="9.08" textLength="24.92" lengthAdjust="spacingAndGlyphs">1 days</text>
<text x="1104.05" y="298.58" font-size="9.08" textLength="24.92" lengthAdjust="spacingAndGlyphs">0 days</text>
<text x="65.20" y="314.48" font-size="10.00" textLength="14.99" lengthAdjust="spacingAndGlyphs" transform="matrix(1 0 0 1.04 0 -12.579)">231</text>
<text x="133.10" y="313.58" font-size="9.08" textLength="160.10" lengthAdjust="spacingAndGlyphs">Prepare DDA and ICE certification (Draft)</text>
<text x="363.00" y="313.58" font-size="9.08" textLength="34.81" lengthAdjust="spacingAndGlyphs">135 days</text>
<text x="417.90" y="313.58" font-size="9.08" textLength="29.87" lengthAdjust="spacingAndGlyphs">94 days</text>
<text x="473.50" y="313.58" font-size="8.99" textLength="63.36" lengthAdjust="spacingAndGlyphs">August 13, 2019</text>
<text x="555.40" y="313.58" font-size="9.08" textLength="11.95" lengthAdjust="spacingAndGlyphs">NA</text>
<text x="637.50" y="313.58" font-size="8.99" textLength="63.36" lengthAdjust="spacingAndGlyphs">August 13, 2019</text>
<text x="719.40" y="313.58" font-size="8.99" textLength="76.78" lengthAdjust="spacingAndGlyphs">December 25, 2019</text>
<text x="801.30" y="313.58" font-size="8.99" textLength="63.36" lengthAdjust="spacingAndGlyphs">August 13, 2019</text>
<text x="888.60" y="313.58" font-size="8.99" textLength="76.78" lengthAdjust="spacingAndGlyphs">December 25, 2019</text>
<text x="970.70" y="313.58" font-size="9.08" textLength="16.87" lengthAdjust="spacingAndGlyphs">30%</text>
<text x="1015.00" y="313.58" font-size="9.08" textLength="24.92" lengthAdjust="spacingAndGlyphs">0 days</text>
<text x="1054.45" y="313.58" font-size="9.08" textLength="24.92" lengthAdjust="spacingAndGlyphs">1 days</text>
<text x="1104.05" y="313.58" font-size="9.08" textLength="24.92" lengthAdjust="spacingAndGlyphs">0 days</text>
<text x="65.20" y="329.48" font-size="10.00" textLength="14.99" lengthAdjust="spacingAndGlyphs" transform="matrix(1 0 0 1.04 0 -13.179)">232</text>
<text x="133.10" y="328.58" font-size="9.08" textLength="222.11" lengthAdjust="spacingAndGlyphs">Submit &amp; endorse by PM and Statutory Authorities/Gov.</text>
<text x="133.10" y="340.38" font-size="9.08" textLength="19.22" lengthAdjust="spacingAndGlyphs">Dept</text>
<text x="363.00" y="328.58" font-size="9.08" textLength="29.87" lengthAdjust="spacingAndGlyphs">66 days</text>
<text x="417.90" y="328.58" font-size="9.08" textLength="29.87" lengthAdjust="spacingAndGlyphs">66 days</text>
<text x="473.50" y="328.58" font-size="9.08" textLength="11.95" lengthAdjust="spacingAndGlyphs">NA</text>
<text x="555.40" y="328.58" font-size="9.08" textLength="11.95" lengthAdjust="spacingAndGlyphs">NA</text>
<text x="637.50" y="328.58" font-size="8.99" textLength="76.78" lengthAdjust="spacingAndGlyphs">December 26, 2019</text>
<text x="719.40" y="328.58" font-size="8.99" textLength="71.21" lengthAdjust="spacingAndGlyphs">February 29, 2020</text>
<text x="801.30" y="328.58" font-size="8.99" textLength="76.78" lengthAdjust="spacingAndGlyphs">December 26, 2019</text>
<text x="888.60" y="328.58" font-size="8.99" textLength="71.21" lengthAdjust="spacingAndGlyphs">February 29, 2020</text>
<text x="970.70" y="328.58" font-size="9.08" textLength="11.92" lengthAdjust="spacingAndGlyphs">0%</text>
<text x="1015.00" y="328.58" font-size="9.08" textLength="24.92" lengthAdjust="spacingAndGlyphs">0 days</text>
<text x="1054.45" y="328.58" font-size="9.08" textLength="24.92" lengthAdjust="spacingAndGlyphs">3 days</text>
<text x="1104.05" y="328.58" font-size="9.08" textLength="24.92" lengthAdjust="spacingAndGlyphs">0 days</text>
<text x="65.20" y="353.96" font-size="10.00" textLength="14.99" lengthAdjust="spacingAndGlyphs" transform="matrix(1 0 0 1.04 0 -14.158)">233</text>
<text x="133.10" y="353.06" font-size="9.08" textLength="172.56" lengthAdjust="spacingAndGlyphs">Prepare DDA for and ICE certification (Final)</text>
<text x="363.00" y="353.06" font-size="9.08" textLength="29.87" lengthAdjust="spacingAndGlyphs">14 days</text>
<text x="417.90" y="353.06" font-size="9.08" textLength="29.87" lengthAdjust="spacingAndGlyphs">14 days</text>
<text x="473.50" y="353.06" font-size="9.08" textLength="11.95" lengthAdjust="spacingAndGlyphs">NA</text>
<text x="555.40" y="353.06" font-size="9.08" textLength="11.95" lengthAdjust="spacingAndGlyphs">NA</text>
<text x="637.50" y="353.06" font-size="8.99" textLength="56.55" lengthAdjust="spacingAndGlyphs">March 1, 2020</text>
<text x="719.40" y="353.06" font-size="8.99" textLength="61.44" lengthAdjust="spacingAndGlyphs">March 14, 2020</text>
<text x="801.30" y="353.06" font-size="8.99" textLength="56.55" lengthAdjust="spacingAndGlyphs">March 1, 2020</text>
<text x="888.60" y="353.06" font-size="8.99" textLength="61.44" lengthAdjust="spacingAndGlyphs">March 14, 2020</text>
<text x="970.70" y="353.06" font-size="9.08" textLength="11.92" lengthAdjust="spacingAndGlyphs">0%</text>
<text x="1015.00" y="353.06" font-size="9.08" textLength="24.92" lengthAdjust="spacingAndGlyphs">0 days</text>
<text x="1054.45" y="353.06" font-size="9.08" textLength="24.92" lengthAdjust="spacingAndGlyphs">0 days</text>
<text x="1104.05" y="353.06" font-size="9.08" textLength="24.92" lengthAdjust="spacingAndGlyphs">0 days</text>
<text x="65.20" y="368.96" font-size="10.00" textLength="14.99" lengthAdjust="spacingAndGlyphs" transform="matrix(1 0 0 1.04 0 -14.758)">234</text>
<text x="133.10" y="368.06" font-size="9.08" textLength="222.11" lengthAdjust="spacingAndGlyphs">Submit &amp; endorse by PM and Statutory Authorities/Gov.</text>
<text x="133.10" y="379.86" font-size="9.08" textLength="19.22" lengthAdjust="spacingAndGlyphs">Dept</text>
<text x="363.00" y="368.06" font-size="9.08" textLength="29.87" lengthAdjust="spacingAndGlyphs">38 days</text>
<text x="417.90" y="368.06" font-size="9.08" textLength="29.87" lengthAdjust="spacingAndGlyphs">38 days</text>
<text x="473.50" y="368.06" font-size="9.08" textLength="11.95" lengthAdjust="spacingAndGlyphs">NA</text>
<text x="555.40" y="368.06" font-size="9.08" textLength="11.95" lengthAdjust="spacingAndGlyphs">NA</text>
<text x="637.50" y="368.06" font-size="8.99" textLength="61.44" lengthAdjust="spacingAndGlyphs">March 15, 2020</text>
<text x="719.40" y="368.06" font-size="8.99" textLength="54.63" lengthAdjust="spacingAndGlyphs">April 21, 2020</text>
<text x="801.30" y="368.06" font-size="8.99" textLength="61.44" lengthAdjust="spacingAndGlyphs">March 15, 2020</text>
<text x="888.60" y="368.06" font-size="8.99" textLength="54.63" lengthAdjust="spacingAndGlyphs">April 21, 2020</text>
<text x="970.70" y="368.06" font-size="9.08" textLength="11.92" lengthAdjust="spacingAndGlyphs">0%</text>
<text x="1015.00" y="368.06" font-size="9.08" textLength="24.92" lengthAdjust="spacingAndGlyphs">0 days</text>
<text x="1054.45" y="368.06" font-size="9.08" textLength="24.92" lengthAdjust="spacingAndGlyphs">2 days</text>
<text x="1104.05" y="368.06" font-size="9.08" textLength="24.92" lengthAdjust="spacingAndGlyphs">0 days</text>
<text x="65.20" y="393.44" font-size="10.00" textLength="14.99" lengthAdjust="spacingAndGlyphs" transform="matrix(1 0 0 1.04 0 -15.738)">235</text>
<text x="122.90" y="392.54" font-size="9.08" textLength="47.24" lengthAdjust="spacingAndGlyphs" font-weight="700">Rising Main</text>
<text x="363.00" y="392.54" font-size="9.08" textLength="35.38" lengthAdjust="spacingAndGlyphs" font-weight="700">215 days</text>
<text x="417.90" y="392.54" font-size="9.08" textLength="35.38" lengthAdjust="spacingAndGlyphs" font-weight="700">215 days</text>
<text x="473.50" y="392.54" font-size="9.08" textLength="12.34" lengthAdjust="spacingAndGlyphs" font-weight="700">NA</text>
<text x="555.40" y="392.54" font-size="9.08" textLength="12.34" lengthAdjust="spacingAndGlyphs" font-weight="700">NA</text>
<text x="637.50" y="392.54" font-size="8.99" textLength="72.55" lengthAdjust="spacingAndGlyphs" font-weight="700">December 8, 2019</text>
<text x="719.40" y="392.54" font-size="8.99" textLength="46.68" lengthAdjust="spacingAndGlyphs" font-weight="700">July 9, 2020</text>
<text x="801.30" y="392.54" font-size="8.99" textLength="72.55" lengthAdjust="spacingAndGlyphs" font-weight="700">December 8, 2019</text>
<text x="888.60" y="392.54" font-size="8.99" textLength="46.68" lengthAdjust="spacingAndGlyphs" font-weight="700">July 9, 2020</text>
<text x="970.70" y="392.54" font-size="9.08" textLength="12.06" lengthAdjust="spacingAndGlyphs" font-weight="700">0%</text>
<text x="1015.00" y="392.54" font-size="9.08" textLength="25.49" lengthAdjust="spacingAndGlyphs" font-weight="700">0 days</text>
<text x="1104.05" y="392.54" font-size="9.08" textLength="25.49" lengthAdjust="spacingAndGlyphs" font-weight="700">0 days</text>
<text x="65.20" y="408.44" font-size="10.00" textLength="14.99" lengthAdjust="spacingAndGlyphs" transform="matrix(1 0 0 1.04 0 -16.338)">236</text>
<text x="133.10" y="407.54" font-size="9.08" textLength="155.73" lengthAdjust="spacingAndGlyphs">Prepare AIP and ICE certification (Draft)</text>
<text x="363.00" y="407.54" font-size="9.08" textLength="29.87" lengthAdjust="spacingAndGlyphs">60 days</text>
<text x="417.90" y="407.54" font-size="9.08" textLength="29.87" lengthAdjust="spacingAndGlyphs">60 days</text>
<text x="473.50" y="407.54" font-size="9.08" textLength="11.95" lengthAdjust="spacingAndGlyphs">NA</text>
<text x="555.40" y="407.54" font-size="9.08" textLength="11.95" lengthAdjust="spacingAndGlyphs">NA</text>
<text x="637.50" y="407.54" font-size="8.99" textLength="71.88" lengthAdjust="spacingAndGlyphs">December 8, 2019</text>
<text x="719.40" y="407.54" font-size="8.99" textLength="66.31" lengthAdjust="spacingAndGlyphs">February 5, 2020</text>
<text x="801.30" y="407.54" font-size="8.99" textLength="71.88" lengthAdjust="spacingAndGlyphs">December 8, 2019</text>
<text x="888.60" y="407.54" font-size="8.99" textLength="66.31" lengthAdjust="spacingAndGlyphs">February 5, 2020</text>
<text x="970.70" y="407.54" font-size="9.08" textLength="11.92" lengthAdjust="spacingAndGlyphs">0%</text>
<text x="1015.00" y="407.54" font-size="9.08" textLength="24.92" lengthAdjust="spacingAndGlyphs">0 days</text>
<text x="1054.45" y="407.54" font-size="9.08" textLength="24.92" lengthAdjust="spacingAndGlyphs">3 days</text>
<text x="1104.05" y="407.54" font-size="9.08" textLength="24.92" lengthAdjust="spacingAndGlyphs">0 days</text>
<text x="65.20" y="423.44" font-size="10.00" textLength="14.99" lengthAdjust="spacingAndGlyphs" transform="matrix(1 0 0 1.04 0 -16.938)">237</text>
<text x="133.10" y="422.54" font-size="9.08" textLength="222.11" lengthAdjust="spacingAndGlyphs">Submit &amp; endorse by PM and Statutory Authorities/Gov.</text>
<text x="133.10" y="434.34" font-size="9.08" textLength="19.22" lengthAdjust="spacingAndGlyphs">Dept</text>
<text x="363.00" y="422.54" font-size="9.08" textLength="29.87" lengthAdjust="spacingAndGlyphs">60 days</text>
<text x="417.90" y="422.54" font-size="9.08" textLength="29.87" lengthAdjust="spacingAndGlyphs">60 days</text>
<text x="473.50" y="422.54" font-size="9.08" textLength="11.95" lengthAdjust="spacingAndGlyphs">NA</text>
<text x="555.40" y="422.54" font-size="9.08" textLength="11.95" lengthAdjust="spacingAndGlyphs">NA</text>
<text x="637.50" y="422.54" font-size="8.99" textLength="66.31" lengthAdjust="spacingAndGlyphs">February 6, 2020</text>
<text x="719.40" y="422.54" font-size="8.99" textLength="49.74" lengthAdjust="spacingAndGlyphs">April 5, 2020</text>
<text x="801.30" y="422.54" font-size="8.99" textLength="71.21" lengthAdjust="spacingAndGlyphs">February 21, 2020</text>
<text x="888.60" y="422.54" font-size="8.99" textLength="54.63" lengthAdjust="spacingAndGlyphs">April 20, 2020</text>
<text x="970.70" y="422.54" font-size="9.08" textLength="11.92" lengthAdjust="spacingAndGlyphs">0%</text>
<text x="1015.00" y="422.54" font-size="9.08" textLength="24.92" lengthAdjust="spacingAndGlyphs">0 days</text>
<text x="1054.45" y="422.54" font-size="9.08" textLength="32.33" lengthAdjust="spacingAndGlyphs">0.5 days</text>
<text x="1104.05" y="422.54" font-size="9.08" textLength="29.87" lengthAdjust="spacingAndGlyphs">15 days</text>
<text x="65.20" y="447.92" font-size="10.00" textLength="14.99" lengthAdjust="spacingAndGlyphs" transform="matrix(1 0 0 1.04 0 -17.917)">238</text>
<text x="133.10" y="447.02" font-size="9.08" textLength="154.66" lengthAdjust="spacingAndGlyphs">Prepare AIP and ICE certification (Final)</text>
<text x="363.00" y="447.02" font-size="9.08" textLength="29.87" lengthAdjust="spacingAndGlyphs">20 days</text>
<text x="417.90" y="447.02" font-size="9.08" textLength="29.87" lengthAdjust="spacingAndGlyphs">20 days</text>
<text x="473.50" y="447.02" font-size="9.08" textLength="11.95" lengthAdjust="spacingAndGlyphs">NA</text>
<text x="555.40" y="447.02" font-size="9.08" textLength="11.95" lengthAdjust="spacingAndGlyphs">NA</text>
<text x="637.50" y="447.02" font-size="8.99" textLength="49.74" lengthAdjust="spacingAndGlyphs">April 6, 2020</text>
<text x="719.40" y="447.02" font-size="8.99" textLength="54.63" lengthAdjust="spacingAndGlyphs">April 25, 2020</text>
<text x="801.30" y="447.02" font-size="8.99" textLength="54.63" lengthAdjust="spacingAndGlyphs">April 21, 2020</text>
<text x="888.60" y="447.02" font-size="8.99" textLength="53.25" lengthAdjust="spacingAndGlyphs">May 10, 2020</text>
<text x="970.70" y="447.02" font-size="9.08" textLength="11.92" lengthAdjust="spacingAndGlyphs">0%</text>
<text x="1015.00" y="447.02" font-size="9.08" textLength="29.87" lengthAdjust="spacingAndGlyphs">15 days</text>
<text x="1054.45" y="447.02" font-size="9.08" textLength="24.92" lengthAdjust="spacingAndGlyphs">0 days</text>
<text x="1104.05" y="447.02" font-size="9.08" textLength="29.87" lengthAdjust="spacingAndGlyphs">15 days</text>
<text x="65.20" y="462.92" font-size="10.00" textLength="14.99" lengthAdjust="spacingAndGlyphs" transform="matrix(1 0 0 1.04 0 -18.517)">239</text>
<text x="133.10" y="462.02" font-size="9.08" textLength="160.10" lengthAdjust="spacingAndGlyphs">Prepare DDA and ICE certification (Draft)</text>
<text x="363.00" y="462.02" font-size="9.08" textLength="29.87" lengthAdjust="spacingAndGlyphs">90 days</text>
<text x="417.90" y="462.02" font-size="9.08" textLength="29.87" lengthAdjust="spacingAndGlyphs">90 days</text>
<text x="473.50" y="462.02" font-size="9.08" textLength="11.95" lengthAdjust="spacingAndGlyphs">NA</text>
<text x="555.40" y="462.02" font-size="9.08" textLength="11.95" lengthAdjust="spacingAndGlyphs">NA</text>
<text x="637.50" y="462.02" font-size="8.99" textLength="71.88" lengthAdjust="spacingAndGlyphs">December 8, 2019</text>
<text x="719.40" y="462.02" font-size="8.99" textLength="56.55" lengthAdjust="spacingAndGlyphs">March 6, 2020</text>
<text x="801.30" y="462.02" font-size="8.99" textLength="71.88" lengthAdjust="spacingAndGlyphs">December 8, 2019</text>
<text x="888.60" y="462.02" font-size="8.99" textLength="56.55" lengthAdjust="spacingAndGlyphs">March 6, 2020</text>
<text x="970.70" y="462.02" font-size="9.08" textLength="11.92" lengthAdjust="spacingAndGlyphs">0%</text>
<text x="1015.00" y="462.02" font-size="9.08" textLength="24.92" lengthAdjust="spacingAndGlyphs">0 days</text>
<text x="1054.45" y="462.02" font-size="9.08" textLength="24.92" lengthAdjust="spacingAndGlyphs">4 days</text>
<text x="1104.05" y="462.02" font-size="9.08" textLength="24.92" lengthAdjust="spacingAndGlyphs">0 days</text>
<text x="65.20" y="477.92" font-size="10.00" textLength="14.99" lengthAdjust="spacingAndGlyphs" transform="matrix(1 0 0 1.04 0 -19.117)">240</text>
<text x="133.10" y="477.02" font-size="9.08" textLength="222.11" lengthAdjust="spacingAndGlyphs">Submit &amp; endorse by PM and Statutory Authorities/Gov.</text>
<text x="133.10" y="488.82" font-size="9.08" textLength="19.22" lengthAdjust="spacingAndGlyphs">Dept</text>
<text x="363.00" y="477.02" font-size="9.08" textLength="29.87" lengthAdjust="spacingAndGlyphs">55 days</text>
<text x="417.90" y="477.02" font-size="9.08" textLength="29.87" lengthAdjust="spacingAndGlyphs">55 days</text>
<text x="473.50" y="477.02" font-size="9.08" textLength="11.95" lengthAdjust="spacingAndGlyphs">NA</text>
<text x="555.40" y="477.02" font-size="9.08" textLength="11.95" lengthAdjust="spacingAndGlyphs">NA</text>
<text x="637.50" y="477.02" font-size="8.99" textLength="56.55" lengthAdjust="spacingAndGlyphs">March 7, 2020</text>
<text x="719.40" y="477.02" font-size="8.99" textLength="54.63" lengthAdjust="spacingAndGlyphs">April 30, 2020</text>
<text x="801.30" y="477.02" font-size="8.99" textLength="56.55" lengthAdjust="spacingAndGlyphs">March 7, 2020</text>
<text x="888.60" y="477.02" font-size="8.99" textLength="54.63" lengthAdjust="spacingAndGlyphs">April 30, 2020</text>
<text x="970.70" y="477.02" font-size="9.08" textLength="11.92" lengthAdjust="spacingAndGlyphs">0%</text>
<text x="1015.00" y="477.02" font-size="9.08" textLength="24.92" lengthAdjust="spacingAndGlyphs">0 days</text>
<text x="1054.45" y="477.02" font-size="9.08" textLength="24.92" lengthAdjust="spacingAndGlyphs">3 days</text>
<text x="1104.05" y="477.02" font-size="9.08" textLength="24.92" lengthAdjust="spacingAndGlyphs">0 days</text>
<text x="65.20" y="502.40" font-size="10.00" textLength="14.99" lengthAdjust="spacingAndGlyphs" transform="matrix(1 0 0 1.04 0 -20.096)">241</text>
<text x="133.10" y="501.50" font-size="9.08" textLength="159.03" lengthAdjust="spacingAndGlyphs">Prepare DDA and ICE certification (Final)</text>
<text x="363.00" y="501.50" font-size="9.08" textLength="29.87" lengthAdjust="spacingAndGlyphs">10 days</text>
<text x="417.90" y="501.50" font-size="9.08" textLength="29.87" lengthAdjust="spacingAndGlyphs">10 days</text>
<text x="473.50" y="501.50" font-size="9.08" textLength="11.95" lengthAdjust="spacingAndGlyphs">NA</text>
<text x="555.40" y="501.50" font-size="9.08" textLength="11.95" lengthAdjust="spacingAndGlyphs">NA</text>
<text x="637.50" y="501.50" font-size="8.99" textLength="48.35" lengthAdjust="spacingAndGlyphs">May 1, 2020</text>
<text x="719.40" y="501.50" font-size="8.99" textLength="53.25" lengthAdjust="spacingAndGlyphs">May 10, 2020</text>
<text x="801.30" y="501.50" font-size="8.99" textLength="48.35" lengthAdjust="spacingAndGlyphs">May 1, 2020</text>
<text x="888.60" y="501.50" font-size="8.99" textLength="53.25" lengthAdjust="spacingAndGlyphs">May 10, 2020</text>
<text x="970.70" y="501.50" font-size="9.08" textLength="11.92" lengthAdjust="spacingAndGlyphs">0%</text>
<text x="1015.00" y="501.50" font-size="9.08" textLength="24.92" lengthAdjust="spacingAndGlyphs">0 days</text>
<text x="1054.45" y="501.50" font-size="9.08" textLength="24.92" lengthAdjust="spacingAndGlyphs">0 days</text>
<text x="1104.05" y="501.50" font-size="9.08" textLength="24.92" lengthAdjust="spacingAndGlyphs">0 days</text>
<text x="65.20" y="517.40" font-size="10.00" textLength="14.99" lengthAdjust="spacingAndGlyphs" transform="matrix(1 0 0 1.04 0 -20.696)">242</text>
<text x="133.10" y="516.50" font-size="9.08" textLength="222.11" lengthAdjust="spacingAndGlyphs">Submit &amp; endorse by PM and Statutory Authorities/Gov.</text>
<text x="133.10" y="528.30" font-size="9.08" textLength="19.22" lengthAdjust="spacingAndGlyphs">Dept</text>
<text x="363.00" y="516.50" font-size="9.08" textLength="29.87" lengthAdjust="spacingAndGlyphs">60 days</text>
<text x="417.90" y="516.50" font-size="9.08" textLength="29.87" lengthAdjust="spacingAndGlyphs">60 days</text>
<text x="473.50" y="516.50" font-size="9.08" textLength="11.95" lengthAdjust="spacingAndGlyphs">NA</text>
<text x="555.40" y="516.50" font-size="9.08" textLength="11.95" lengthAdjust="spacingAndGlyphs">NA</text>
<text x="637.50" y="516.50" font-size="8.99" textLength="53.25" lengthAdjust="spacingAndGlyphs">May 11, 2020</text>
<text x="719.40" y="516.50" font-size="8.99" textLength="46.01" lengthAdjust="spacingAndGlyphs">July 9, 2020</text>
<text x="801.30" y="516.50" font-size="8.99" textLength="53.25" lengthAdjust="spacingAndGlyphs">May 11, 2020</text>
<text x="888.60" y="516.50" font-size="8.99" textLength="46.01" lengthAdjust="spacingAndGlyphs">July 9, 2020</text>
<text x="970.70" y="516.50" font-size="9.08" textLength="11.92" lengthAdjust="spacingAndGlyphs">0%</text>
<text x="1015.00" y="516.50" font-size="9.08" textLength="24.92" lengthAdjust="spacingAndGlyphs">0 days</text>
<text x="1054.45" y="516.50" font-size="9.08" textLength="24.92" lengthAdjust="spacingAndGlyphs">3 days</text>
<text x="1104.05" y="516.50" font-size="9.08" textLength="24.92" lengthAdjust="spacingAndGlyphs">0 days</text>
<text x="65.20" y="541.88" font-size="10.00" textLength="14.99" lengthAdjust="spacingAndGlyphs" transform="matrix(1 0 0 1.04 0 -21.675)">243</text>
<text x="122.90" y="540.98" font-size="9.08" textLength="164.83" lengthAdjust="spacingAndGlyphs" font-weight="700">Stormwater and Sewage Drainage Works</text>
<text x="363.00" y="540.98" font-size="9.08" textLength="35.38" lengthAdjust="spacingAndGlyphs" font-weight="700">442 days</text>
<text x="417.90" y="540.98" font-size="9.08" textLength="35.38" lengthAdjust="spacingAndGlyphs" font-weight="700">442 days</text>
<text x="473.50" y="540.98" font-size="9.08" textLength="12.34" lengthAdjust="spacingAndGlyphs" font-weight="700">NA</text>
<text x="555.40" y="540.98" font-size="9.08" textLength="12.34" lengthAdjust="spacingAndGlyphs" font-weight="700">NA</text>
<text x="637.50" y="540.98" font-size="8.99" textLength="72.55" lengthAdjust="spacingAndGlyphs" font-weight="700">December 8, 2019</text>
<text x="719.40" y="540.98" font-size="8.99" textLength="72.03" lengthAdjust="spacingAndGlyphs" font-weight="700">February 21, 2021</text>
<text x="801.30" y="540.98" font-size="8.99" textLength="61.99" lengthAdjust="spacingAndGlyphs" font-weight="700">March 18, 2020</text>
<text x="888.60" y="540.98" font-size="8.99" textLength="49.78" lengthAdjust="spacingAndGlyphs" font-weight="700">June 2, 2021</text>
<text x="970.70" y="540.98" font-size="9.08" textLength="12.06" lengthAdjust="spacingAndGlyphs" font-weight="700">0%</text>
<text x="1015.00" y="540.98" font-size="9.08" textLength="30.43" lengthAdjust="spacingAndGlyphs" font-weight="700">84 days</text>
<text x="1104.05" y="540.98" font-size="9.08" textLength="35.38" lengthAdjust="spacingAndGlyphs" font-weight="700">101 days</text>
<text x="65.20" y="556.88" font-size="10.00" textLength="14.99" lengthAdjust="spacingAndGlyphs" transform="matrix(1 0 0 1.04 0 -22.275)">244</text>
<text x="133.10" y="555.98" font-size="9.08" textLength="206.67" lengthAdjust="spacingAndGlyphs">Prepare AIP for Bidge D3 and ICE certification (Draft)</text>
<text x="363.00" y="555.98" font-size="9.08" textLength="29.87" lengthAdjust="spacingAndGlyphs">60 days</text>
<text x="417.90" y="555.98" font-size="9.08" textLength="29.87" lengthAdjust="spacingAndGlyphs">60 days</text>
<text x="473.50" y="555.98" font-size="9.08" textLength="11.95" lengthAdjust="spacingAndGlyphs">NA</text>
<text x="555.40" y="555.98" font-size="9.08" textLength="11.95" lengthAdjust="spacingAndGlyphs">NA</text>
<text x="637.50" y="555.98" font-size="8.99" textLength="71.88" lengthAdjust="spacingAndGlyphs">December 8, 2019</text>
<text x="719.40" y="555.98" font-size="8.99" textLength="66.31" lengthAdjust="spacingAndGlyphs">February 5, 2020</text>
<text x="801.30" y="555.98" font-size="8.99" textLength="61.44" lengthAdjust="spacingAndGlyphs">March 18, 2020</text>
<text x="888.60" y="555.98" font-size="8.99" textLength="53.25" lengthAdjust="spacingAndGlyphs">May 16, 2020</text>
<text x="970.70" y="555.98" font-size="9.08" textLength="11.92" lengthAdjust="spacingAndGlyphs">0%</text>
<text x="1015.00" y="555.98" font-size="9.08" textLength="24.92" lengthAdjust="spacingAndGlyphs">0 days</text>
<text x="1054.45" y="555.98" font-size="9.08" textLength="21.19" lengthAdjust="spacingAndGlyphs">1 day</text>
<text x="1104.05" y="555.98" font-size="9.08" textLength="34.81" lengthAdjust="spacingAndGlyphs">101 days</text>
<text x="65.20" y="581.36" font-size="10.00" textLength="14.99" lengthAdjust="spacingAndGlyphs" transform="matrix(1 0 0 1.04 0 -23.254)">245</text>
<text x="133.10" y="580.46" font-size="9.08" textLength="222.11" lengthAdjust="spacingAndGlyphs">Submit &amp; endorse by PM and Statutory Authorities/Gov.</text>
<text x="133.10" y="592.26" font-size="9.08" textLength="19.22" lengthAdjust="spacingAndGlyphs">Dept</text>
<text x="363.00" y="580.46" font-size="9.08" textLength="29.87" lengthAdjust="spacingAndGlyphs">60 days</text>
<text x="417.90" y="580.46" font-size="9.08" textLength="29.87" lengthAdjust="spacingAndGlyphs">60 days</text>
<text x="473.50" y="580.46" font-size="9.08" textLength="11.95" lengthAdjust="spacingAndGlyphs">NA</text>
<text x="555.40" y="580.46" font-size="9.08" textLength="11.95" lengthAdjust="spacingAndGlyphs">NA</text>
<text x="637.50" y="580.46" font-size="8.99" textLength="66.31" lengthAdjust="spacingAndGlyphs">February 6, 2020</text>
<text x="719.40" y="580.46" font-size="8.99" textLength="49.74" lengthAdjust="spacingAndGlyphs">April 5, 2020</text>
<text x="801.30" y="580.46" font-size="8.99" textLength="63.36" lengthAdjust="spacingAndGlyphs">August 17, 2020</text>
<text x="888.60" y="580.46" font-size="8.99" textLength="68.14" lengthAdjust="spacingAndGlyphs">October 15, 2020</text>
<text x="970.70" y="580.46" font-size="9.08" textLength="11.92" lengthAdjust="spacingAndGlyphs">0%</text>
<text x="1015.00" y="580.46" font-size="9.08" textLength="24.92" lengthAdjust="spacingAndGlyphs">0 days</text>
<text x="1054.45" y="580.46" font-size="9.08" textLength="32.33" lengthAdjust="spacingAndGlyphs">0.5 days</text>
<text x="1104.05" y="580.46" font-size="9.08" textLength="34.81" lengthAdjust="spacingAndGlyphs">193 days</text>
<text x="65.20" y="605.84" font-size="10.00" textLength="14.99" lengthAdjust="spacingAndGlyphs" transform="matrix(1 0 0 1.04 0 -24.234)">246</text>
<text x="133.10" y="604.94" font-size="9.08" textLength="205.60" lengthAdjust="spacingAndGlyphs">Prepare AIP for Bidge D3 and ICE certification (Final)</text>
<text x="363.00" y="604.94" font-size="9.08" textLength="29.87" lengthAdjust="spacingAndGlyphs">10 days</text>
<text x="417.90" y="604.94" font-size="9.08" textLength="29.87" lengthAdjust="spacingAndGlyphs">10 days</text>
<text x="473.50" y="604.94" font-size="9.08" textLength="11.95" lengthAdjust="spacingAndGlyphs">NA</text>
<text x="555.40" y="604.94" font-size="9.08" textLength="11.95" lengthAdjust="spacingAndGlyphs">NA</text>
<text x="637.50" y="604.94" font-size="8.99" textLength="49.74" lengthAdjust="spacingAndGlyphs">April 6, 2020</text>
<text x="719.40" y="604.94" font-size="8.99" textLength="54.63" lengthAdjust="spacingAndGlyphs">April 15, 2020</text>
<text x="801.30" y="604.94" font-size="8.99" textLength="68.14" lengthAdjust="spacingAndGlyphs">October 16, 2020</text>
<text x="888.60" y="604.94" font-size="8.99" textLength="68.14" lengthAdjust="spacingAndGlyphs">October 25, 2020</text>
<text x="970.70" y="604.94" font-size="9.08" textLength="11.92" lengthAdjust="spacingAndGlyphs">0%</text>
<text x="1015.00" y="604.94" font-size="9.08" textLength="24.92" lengthAdjust="spacingAndGlyphs">0 days</text>
<text x="1054.45" y="604.94" font-size="9.08" textLength="24.92" lengthAdjust="spacingAndGlyphs">0 days</text>
<text x="1104.05" y="604.94" font-size="9.08" textLength="34.81" lengthAdjust="spacingAndGlyphs">193 days</text>
<text x="65.20" y="630.32" font-size="10.00" textLength="14.99" lengthAdjust="spacingAndGlyphs" transform="matrix(1 0 0 1.04 0 -25.213)">247</text>
<text x="133.10" y="629.42" font-size="9.08" textLength="211.04" lengthAdjust="spacingAndGlyphs">Prepare DDA for Bidge D3 and ICE certification (Draft)</text>
<text x="363.00" y="629.42" font-size="9.08" textLength="29.87" lengthAdjust="spacingAndGlyphs">90 days</text>
<text x="417.90" y="629.42" font-size="9.08" textLength="29.87" lengthAdjust="spacingAndGlyphs">90 days</text>
<text x="473.50" y="629.42" font-size="9.08" textLength="11.95" lengthAdjust="spacingAndGlyphs">NA</text>
<text x="555.40" y="629.42" font-size="9.08" textLength="11.95" lengthAdjust="spacingAndGlyphs">NA</text>
<text x="637.50" y="629.42" font-size="8.99" textLength="54.63" lengthAdjust="spacingAndGlyphs">April 16, 2020</text>
<text x="719.40" y="629.42" font-size="8.99" textLength="50.91" lengthAdjust="spacingAndGlyphs">July 14, 2020</text>
<text x="801.30" y="629.42" font-size="8.99" textLength="68.14" lengthAdjust="spacingAndGlyphs">October 26, 2020</text>
<text x="888.60" y="629.42" font-size="8.99" textLength="66.44" lengthAdjust="spacingAndGlyphs">January 23, 2021</text>
<text x="970.70" y="629.42" font-size="9.08" textLength="11.92" lengthAdjust="spacingAndGlyphs">0%</text>
<text x="1015.00" y="629.42" font-size="9.08" textLength="24.92" lengthAdjust="spacingAndGlyphs">0 days</text>
<text x="1054.45" y="629.42" font-size="9.08" textLength="21.19" lengthAdjust="spacingAndGlyphs">1 day</text>
<text x="1104.05" y="629.42" font-size="9.08" textLength="34.81" lengthAdjust="spacingAndGlyphs">193 days</text>
<text x="65.20" y="654.80" font-size="10.00" textLength="14.99" lengthAdjust="spacingAndGlyphs" transform="matrix(1 0 0 1.04 0 -26.192)">248</text>
<text x="133.10" y="653.90" font-size="9.08" textLength="222.11" lengthAdjust="spacingAndGlyphs">Submit &amp; endorse by PM and Statutory Authorities/Gov.</text>
<text x="133.10" y="665.70" font-size="9.08" textLength="19.22" lengthAdjust="spacingAndGlyphs">Dept</text>
<text x="363.00" y="653.90" font-size="9.08" textLength="29.87" lengthAdjust="spacingAndGlyphs">60 days</text>
<text x="417.90" y="653.90" font-size="9.08" textLength="29.87" lengthAdjust="spacingAndGlyphs">60 days</text>
<text x="473.50" y="653.90" font-size="9.08" textLength="11.95" lengthAdjust="spacingAndGlyphs">NA</text>
<text x="555.40" y="653.90" font-size="9.08" textLength="11.95" lengthAdjust="spacingAndGlyphs">NA</text>
<text x="637.50" y="653.90" font-size="8.99" textLength="50.91" lengthAdjust="spacingAndGlyphs">July 15, 2020</text>
<text x="719.40" y="653.90" font-size="8.99" textLength="79.36" lengthAdjust="spacingAndGlyphs">September 12, 2020</text>
<text x="801.30" y="653.90" font-size="8.99" textLength="66.44" lengthAdjust="spacingAndGlyphs">January 24, 2021</text>
<text x="888.60" y="653.90" font-size="8.99" textLength="61.44" lengthAdjust="spacingAndGlyphs">March 24, 2021</text>
<text x="970.70" y="653.90" font-size="9.08" textLength="11.92" lengthAdjust="spacingAndGlyphs">0%</text>
<text x="1015.00" y="653.90" font-size="9.08" textLength="24.92" lengthAdjust="spacingAndGlyphs">0 days</text>
<text x="1054.45" y="653.90" font-size="9.08" textLength="32.33" lengthAdjust="spacingAndGlyphs">0.5 days</text>
<text x="1104.05" y="653.90" font-size="9.08" textLength="34.81" lengthAdjust="spacingAndGlyphs">193 days</text>
<text x="65.20" y="679.28" font-size="10.00" textLength="14.99" lengthAdjust="spacingAndGlyphs" transform="matrix(1 0 0 1.04 0 -27.171)">249</text>
<text x="133.10" y="678.38" font-size="9.08" textLength="212.18" lengthAdjust="spacingAndGlyphs">Prepare DDA  for Bidge D3 and ICE certification (Final)</text>
<text x="363.00" y="678.38" font-size="9.08" textLength="29.87" lengthAdjust="spacingAndGlyphs">10 days</text>
<text x="417.90" y="678.38" font-size="9.08" textLength="29.87" lengthAdjust="spacingAndGlyphs">10 days</text>
<text x="473.50" y="678.38" font-size="9.08" textLength="11.95" lengthAdjust="spacingAndGlyphs">NA</text>
<text x="555.40" y="678.38" font-size="9.08" textLength="11.95" lengthAdjust="spacingAndGlyphs">NA</text>
<text x="637.50" y="678.38" font-size="8.99" textLength="79.36" lengthAdjust="spacingAndGlyphs">September 13, 2020</text>
<text x="719.40" y="678.38" font-size="8.99" textLength="79.36" lengthAdjust="spacingAndGlyphs">September 22, 2020</text>
<text x="801.30" y="678.38" font-size="8.99" textLength="61.44" lengthAdjust="spacingAndGlyphs">March 25, 2021</text>
<text x="888.60" y="678.38" font-size="8.99" textLength="49.74" lengthAdjust="spacingAndGlyphs">April 3, 2021</text>
<text x="970.70" y="678.38" font-size="9.08" textLength="11.92" lengthAdjust="spacingAndGlyphs">0%</text>
<text x="1015.00" y="678.38" font-size="9.08" textLength="24.92" lengthAdjust="spacingAndGlyphs">0 days</text>
<text x="1054.45" y="678.38" font-size="9.08" textLength="24.92" lengthAdjust="spacingAndGlyphs">0 days</text>
<text x="1104.05" y="678.38" font-size="9.08" textLength="34.81" lengthAdjust="spacingAndGlyphs">193 days</text>
<text x="65.20" y="703.76" font-size="10.00" textLength="14.99" lengthAdjust="spacingAndGlyphs" transform="matrix(1 0 0 1.04 0 -28.150)">250</text>
<text x="133.10" y="702.86" font-size="9.08" textLength="222.11" lengthAdjust="spacingAndGlyphs">Submit &amp; endorse by PM and Statutory Authorities/Gov.</text>
<text x="133.10" y="714.66" font-size="9.08" textLength="19.22" lengthAdjust="spacingAndGlyphs">Dept</text>
<text x="363.00" y="702.86" font-size="9.08" textLength="29.87" lengthAdjust="spacingAndGlyphs">60 days</text>
<text x="417.90" y="702.86" font-size="9.08" textLength="29.87" lengthAdjust="spacingAndGlyphs">60 days</text>
<text x="473.50" y="702.86" font-size="9.08" textLength="11.95" lengthAdjust="spacingAndGlyphs">NA</text>
<text x="555.40" y="702.86" font-size="9.08" textLength="11.95" lengthAdjust="spacingAndGlyphs">NA</text>
<text x="637.50" y="702.86" font-size="8.99" textLength="79.36" lengthAdjust="spacingAndGlyphs">September 23, 2020</text>
<text x="719.40" y="702.86" font-size="8.99" textLength="77.50" lengthAdjust="spacingAndGlyphs">November 21, 2020</text>
<text x="801.30" y="702.86" font-size="8.99" textLength="49.74" lengthAdjust="spacingAndGlyphs">April 4, 2021</text>
<text x="888.60" y="702.86" font-size="8.99" textLength="49.31" lengthAdjust="spacingAndGlyphs">June 2, 2021</text>
<text x="970.70" y="702.86" font-size="9.08" textLength="11.92" lengthAdjust="spacingAndGlyphs">0%</text>
<text x="1015.00" y="702.86" font-size="9.08" textLength="34.81" lengthAdjust="spacingAndGlyphs">176 days</text>
<text x="1054.45" y="702.86" font-size="9.08" textLength="24.92" lengthAdjust="spacingAndGlyphs">0 days</text>
<text x="1104.05" y="702.86" font-size="9.08" textLength="34.81" lengthAdjust="spacingAndGlyphs">193 days</text>
<text x="65.20" y="728.24" font-size="10.00" textLength="14.99" lengthAdjust="spacingAndGlyphs" transform="matrix(1 0 0 1.04 0 -29.130)">251</text>
<text x="133.10" y="727.34" font-size="9.08" textLength="204.82" lengthAdjust="spacingAndGlyphs">Prepare AIP for Underpass, Depressed Road and ICE</text>
<text x="133.10" y="739.14" font-size="9.08" textLength="75.29" lengthAdjust="spacingAndGlyphs">certification (Draft)</text>
<text x="363.00" y="727.34" font-size="9.08" textLength="29.87" lengthAdjust="spacingAndGlyphs">60 days</text>
<text x="417.90" y="727.34" font-size="9.08" textLength="29.87" lengthAdjust="spacingAndGlyphs">60 days</text>
<text x="473.50" y="727.34" font-size="9.08" textLength="11.95" lengthAdjust="spacingAndGlyphs">NA</text>
<text x="555.40" y="727.34" font-size="9.08" textLength="11.95" lengthAdjust="spacingAndGlyphs">NA</text>
<text x="637.50" y="727.34" font-size="8.99" textLength="66.31" lengthAdjust="spacingAndGlyphs">February 6, 2020</text>
<text x="719.40" y="727.34" font-size="8.99" textLength="49.74" lengthAdjust="spacingAndGlyphs">April 5, 2020</text>
<text x="801.30" y="727.34" font-size="8.99" textLength="53.25" lengthAdjust="spacingAndGlyphs">May 17, 2020</text>
<text x="888.60" y="727.34" font-size="8.99" textLength="50.91" lengthAdjust="spacingAndGlyphs">July 15, 2020</text>
<text x="970.70" y="727.34" font-size="9.08" textLength="11.92" lengthAdjust="spacingAndGlyphs">0%</text>
<text x="1015.00" y="727.34" font-size="9.08" textLength="24.92" lengthAdjust="spacingAndGlyphs">0 days</text>
<text x="1054.45" y="727.34" font-size="9.08" textLength="21.19" lengthAdjust="spacingAndGlyphs">1 day</text>
<text x="1104.05" y="727.34" font-size="9.08" textLength="34.81" lengthAdjust="spacingAndGlyphs">101 days</text>
<text x="65.20" y="752.72" font-size="10.00" textLength="14.99" lengthAdjust="spacingAndGlyphs" transform="matrix(1 0 0 1.04 0 -30.109)">252</text>
<text x="133.10" y="751.82" font-size="9.08" textLength="222.11" lengthAdjust="spacingAndGlyphs">Submit &amp; endorse by PM and Statutory Authorities/Gov.</text>
<text x="133.10" y="763.62" font-size="9.08" textLength="19.22" lengthAdjust="spacingAndGlyphs">Dept</text>
<text x="363.00" y="751.82" font-size="9.08" textLength="29.87" lengthAdjust="spacingAndGlyphs">60 days</text>
<text x="417.90" y="751.82" font-size="9.08" textLength="29.87" lengthAdjust="spacingAndGlyphs">60 days</text>
<text x="473.50" y="751.82" font-size="9.08" textLength="11.95" lengthAdjust="spacingAndGlyphs">NA</text>
<text x="555.40" y="751.82" font-size="9.08" textLength="11.95" lengthAdjust="spacingAndGlyphs">NA</text>
<text x="637.50" y="751.82" font-size="8.99" textLength="49.74" lengthAdjust="spacingAndGlyphs">April 6, 2020</text>
<text x="719.40" y="751.82" font-size="8.99" textLength="49.31" lengthAdjust="spacingAndGlyphs">June 4, 2020</text>
<text x="801.30" y="751.82" font-size="8.99" textLength="63.36" lengthAdjust="spacingAndGlyphs">August 17, 2020</text>
<text x="888.60" y="751.82" font-size="8.99" textLength="68.14" lengthAdjust="spacingAndGlyphs">October 15, 2020</text>
<text x="970.70" y="751.82" font-size="9.08" textLength="11.92" lengthAdjust="spacingAndGlyphs">0%</text>
<text x="1015.00" y="751.82" font-size="9.08" textLength="24.92" lengthAdjust="spacingAndGlyphs">0 days</text>
<text x="1054.45" y="751.82" font-size="9.08" textLength="32.33" lengthAdjust="spacingAndGlyphs">0.5 days</text>
<text x="1104.05" y="751.82" font-size="9.08" textLength="34.81" lengthAdjust="spacingAndGlyphs">133 days</text>
<text x="65.20" y="777.20" font-size="10.00" textLength="14.99" lengthAdjust="spacingAndGlyphs" transform="matrix(1 0 0 1.04 0 -31.088)">253</text>
<text x="133.10" y="776.30" font-size="9.08" textLength="204.82" lengthAdjust="spacingAndGlyphs">Prepare AIP for Underpass, Depressed Road and ICE</text>
<text x="133.10" y="788.10" font-size="9.08" textLength="74.22" lengthAdjust="spacingAndGlyphs">certification (Final)</text>
<text x="363.00" y="776.30" font-size="9.08" textLength="29.87" lengthAdjust="spacingAndGlyphs">10 days</text>
<text x="417.90" y="776.30" font-size="9.08" textLength="29.87" lengthAdjust="spacingAndGlyphs">10 days</text>
<text x="473.50" y="776.30" font-size="9.08" textLength="11.95" lengthAdjust="spacingAndGlyphs">NA</text>
<text x="555.40" y="776.30" font-size="9.08" textLength="11.95" lengthAdjust="spacingAndGlyphs">NA</text>
<text x="637.50" y="776.30" font-size="8.99" textLength="49.31" lengthAdjust="spacingAndGlyphs">June 5, 2020</text>
<text x="719.40" y="776.30" font-size="8.99" textLength="54.21" lengthAdjust="spacingAndGlyphs">June 14, 2020</text>
<text x="801.30" y="776.30" font-size="8.99" textLength="68.14" lengthAdjust="spacingAndGlyphs">October 16, 2020</text>
<text x="888.60" y="776.30" font-size="8.99" textLength="68.14" lengthAdjust="spacingAndGlyphs">October 25, 2020</text>
<text x="970.70" y="776.30" font-size="9.08" textLength="11.92" lengthAdjust="spacingAndGlyphs">0%</text>
<text x="1015.00" y="776.30" font-size="9.08" textLength="24.92" lengthAdjust="spacingAndGlyphs">0 days</text>
<text x="1054.45" y="776.30" font-size="9.08" textLength="24.92" lengthAdjust="spacingAndGlyphs">0 days</text>
<text x="1104.05" y="776.30" font-size="9.08" textLength="34.81" lengthAdjust="spacingAndGlyphs">133 days</text>
<text x="65.20" y="801.68" font-size="10.00" textLength="14.99" lengthAdjust="spacingAndGlyphs" transform="matrix(1 0 0 1.04 0 -32.067)">254</text>
<text x="133.10" y="800.78" font-size="9.08" textLength="209.18" lengthAdjust="spacingAndGlyphs">Prepare DDA for Underpass, Depressed Road and ICE</text>
<text x="133.10" y="812.58" font-size="9.08" textLength="75.29" lengthAdjust="spacingAndGlyphs">certification (Draft)</text>
<text x="363.00" y="800.78" font-size="9.08" textLength="29.87" lengthAdjust="spacingAndGlyphs">90 days</text>
<text x="417.90" y="800.78" font-size="9.08" textLength="29.87" lengthAdjust="spacingAndGlyphs">90 days</text>
<text x="473.50" y="800.78" font-size="9.08" textLength="11.95" lengthAdjust="spacingAndGlyphs">NA</text>
<text x="555.40" y="800.78" font-size="9.08" textLength="11.95" lengthAdjust="spacingAndGlyphs">NA</text>
<text x="637.50" y="800.78" font-size="8.99" textLength="54.21" lengthAdjust="spacingAndGlyphs">June 15, 2020</text>
<text x="719.40" y="800.78" font-size="8.99" textLength="79.36" lengthAdjust="spacingAndGlyphs">September 12, 2020</text>
<text x="801.30" y="800.78" font-size="8.99" textLength="68.14" lengthAdjust="spacingAndGlyphs">October 26, 2020</text>
<text x="888.60" y="800.78" font-size="8.99" textLength="66.44" lengthAdjust="spacingAndGlyphs">January 23, 2021</text>
<text x="970.70" y="800.78" font-size="9.08" textLength="11.92" lengthAdjust="spacingAndGlyphs">0%</text>
<text x="1015.00" y="800.78" font-size="9.08" textLength="24.92" lengthAdjust="spacingAndGlyphs">0 days</text>
<text x="1054.45" y="800.78" font-size="9.08" textLength="21.19" lengthAdjust="spacingAndGlyphs">1 day</text>
<text x="1104.05" y="800.78" font-size="9.08" textLength="34.81" lengthAdjust="spacingAndGlyphs">133 days</text>
<text x="65.20" y="826.16" font-size="10.00" textLength="14.99" lengthAdjust="spacingAndGlyphs" transform="matrix(1 0 0 1.04 0 -33.046)">255</text>
<text x="133.10" y="825.26" font-size="9.08" textLength="222.11" lengthAdjust="spacingAndGlyphs">Submit &amp; endorse by PM and Statutory Authorities/Gov.</text>
<text x="133.10" y="837.06" font-size="9.08" textLength="19.22" lengthAdjust="spacingAndGlyphs">Dept</text>
<text x="363.00" y="825.26" font-size="9.08" textLength="29.87" lengthAdjust="spacingAndGlyphs">60 days</text>
<text x="417.90" y="825.26" font-size="9.08" textLength="29.87" lengthAdjust="spacingAndGlyphs">60 days</text>
<text x="473.50" y="825.26" font-size="9.08" textLength="11.95" lengthAdjust="spacingAndGlyphs">NA</text>
<text x="555.40" y="825.26" font-size="9.08" textLength="11.95" lengthAdjust="spacingAndGlyphs">NA</text>
<text x="637.50" y="825.26" font-size="8.99" textLength="79.36" lengthAdjust="spacingAndGlyphs">September 13, 2020</text>
<text x="719.40" y="825.26" font-size="8.99" textLength="77.50" lengthAdjust="spacingAndGlyphs">November 11, 2020</text>
<text x="801.30" y="825.26" font-size="8.99" textLength="66.44" lengthAdjust="spacingAndGlyphs">January 24, 2021</text>
<text x="888.60" y="825.26" font-size="8.99" textLength="61.44" lengthAdjust="spacingAndGlyphs">March 24, 2021</text>
<text x="970.70" y="825.26" font-size="9.08" textLength="11.92" lengthAdjust="spacingAndGlyphs">0%</text>
<text x="1015.00" y="825.26" font-size="9.08" textLength="24.92" lengthAdjust="spacingAndGlyphs">0 days</text>
<text x="1054.45" y="825.26" font-size="9.08" textLength="32.33" lengthAdjust="spacingAndGlyphs">0.5 days</text>
<text x="1104.05" y="825.26" font-size="9.08" textLength="34.81" lengthAdjust="spacingAndGlyphs">133 days</text>
<text x="65.20" y="850.64" font-size="10.00" textLength="14.99" lengthAdjust="spacingAndGlyphs" transform="matrix(1 0 0 1.04 0 -34.026)">256</text>
<text x="133.10" y="849.74" font-size="9.08" textLength="209.18" lengthAdjust="spacingAndGlyphs">Prepare DDA for Underpass, Depressed Road and ICE</text>
<text x="133.10" y="861.54" font-size="9.08" textLength="74.22" lengthAdjust="spacingAndGlyphs">certification (Final)</text>
<text x="363.00" y="849.74" font-size="9.08" textLength="29.87" lengthAdjust="spacingAndGlyphs">10 days</text>
<text x="417.90" y="849.74" font-size="9.08" textLength="29.87" lengthAdjust="spacingAndGlyphs">10 days</text>
<text x="473.50" y="849.74" font-size="9.08" textLength="11.95" lengthAdjust="spacingAndGlyphs">NA</text>
<text x="555.40" y="849.74" font-size="9.08" textLength="11.95" lengthAdjust="spacingAndGlyphs">NA</text>
<text x="637.50" y="849.74" font-size="8.99" textLength="77.50" lengthAdjust="spacingAndGlyphs">November 12, 2020</text>
<text x="719.40" y="849.74" font-size="8.99" textLength="77.50" lengthAdjust="spacingAndGlyphs">November 21, 2020</text>
<text x="801.30" y="849.74" font-size="8.99" textLength="61.44" lengthAdjust="spacingAndGlyphs">March 25, 2021</text>
<text x="888.60" y="849.74" font-size="8.99" textLength="49.74" lengthAdjust="spacingAndGlyphs">April 3, 2021</text>
<text x="970.70" y="849.74" font-size="9.08" textLength="11.92" lengthAdjust="spacingAndGlyphs">0%</text>
<text x="1015.00" y="849.74" font-size="9.08" textLength="24.92" lengthAdjust="spacingAndGlyphs">0 days</text>
<text x="1054.45" y="849.74" font-size="9.08" textLength="24.92" lengthAdjust="spacingAndGlyphs">0 days</text>
<text x="1104.05" y="849.74" font-size="9.08" textLength="34.81" lengthAdjust="spacingAndGlyphs">133 days</text>
<text x="65.20" y="875.12" font-size="10.00" textLength="14.99" lengthAdjust="spacingAndGlyphs" transform="matrix(1 0 0 1.04 0 -35.005)">257</text>
<text x="133.10" y="874.22" font-size="9.08" textLength="222.11" lengthAdjust="spacingAndGlyphs">Submit &amp; endorse by PM and Statutory Authorities/Gov.</text>
<text x="133.10" y="886.02" font-size="9.08" textLength="19.22" lengthAdjust="spacingAndGlyphs">Dept</text>
<text x="363.00" y="874.22" font-size="9.08" textLength="29.87" lengthAdjust="spacingAndGlyphs">60 days</text>
<text x="417.90" y="874.22" font-size="9.08" textLength="29.87" lengthAdjust="spacingAndGlyphs">60 days</text>
<text x="473.50" y="874.22" font-size="9.08" textLength="11.95" lengthAdjust="spacingAndGlyphs">NA</text>
<text x="555.40" y="874.22" font-size="9.08" textLength="11.95" lengthAdjust="spacingAndGlyphs">NA</text>
<text x="637.50" y="874.22" font-size="8.99" textLength="77.50" lengthAdjust="spacingAndGlyphs">November 22, 2020</text>
<text x="719.40" y="874.22" font-size="8.99" textLength="66.44" lengthAdjust="spacingAndGlyphs">January 20, 2021</text>
<text x="801.30" y="874.22" font-size="8.99" textLength="49.74" lengthAdjust="spacingAndGlyphs">April 4, 2021</text>
<text x="888.60" y="874.22" font-size="8.99" textLength="49.31" lengthAdjust="spacingAndGlyphs">June 2, 2021</text>
<text x="970.70" y="874.22" font-size="9.08" textLength="11.92" lengthAdjust="spacingAndGlyphs">0%</text>
<text x="1015.00" y="874.22" font-size="9.08" textLength="34.81" lengthAdjust="spacingAndGlyphs">116 days</text>
<text x="1054.45" y="874.22" font-size="9.08" textLength="24.92" lengthAdjust="spacingAndGlyphs">0 days</text>
<text x="1104.05" y="874.22" font-size="9.08" textLength="34.81" lengthAdjust="spacingAndGlyphs">133 days</text>
<text x="65.20" y="899.60" font-size="10.00" textLength="14.99" lengthAdjust="spacingAndGlyphs" transform="matrix(1 0 0 1.04 0 -35.984)">258</text>
<text x="133.10" y="898.70" font-size="9.08" textLength="156.39" lengthAdjust="spacingAndGlyphs">AIP for Water Works   Road L12d (Draft)</text>
<text x="363.00" y="898.70" font-size="9.08" textLength="29.87" lengthAdjust="spacingAndGlyphs">60 days</text>
<text x="417.90" y="898.70" font-size="9.08" textLength="29.87" lengthAdjust="spacingAndGlyphs">60 days</text>
<text x="473.50" y="898.70" font-size="9.08" textLength="11.95" lengthAdjust="spacingAndGlyphs">NA</text>
<text x="555.40" y="898.70" font-size="9.08" textLength="11.95" lengthAdjust="spacingAndGlyphs">NA</text>
<text x="637.50" y="898.70" font-size="8.99" textLength="49.74" lengthAdjust="spacingAndGlyphs">April 6, 2020</text>
<text x="719.40" y="898.70" font-size="8.99" textLength="49.31" lengthAdjust="spacingAndGlyphs">June 4, 2020</text>
<text x="801.30" y="898.70" font-size="8.99" textLength="50.91" lengthAdjust="spacingAndGlyphs">July 16, 2020</text>
<text x="888.60" y="898.70" font-size="8.99" textLength="79.36" lengthAdjust="spacingAndGlyphs">September 13, 2020</text>
<text x="970.70" y="898.70" font-size="9.08" textLength="11.92" lengthAdjust="spacingAndGlyphs">0%</text>
<text x="1015.00" y="898.70" font-size="9.08" textLength="24.92" lengthAdjust="spacingAndGlyphs">0 days</text>
<text x="1054.45" y="898.70" font-size="9.08" textLength="21.19" lengthAdjust="spacingAndGlyphs">1 day</text>
<text x="1104.05" y="898.70" font-size="9.08" textLength="34.81" lengthAdjust="spacingAndGlyphs">101 days</text>
<text x="65.20" y="914.60" font-size="10.00" textLength="14.99" lengthAdjust="spacingAndGlyphs" transform="matrix(1 0 0 1.04 0 -36.584)">259</text>
<text x="133.10" y="913.70" font-size="9.08" textLength="155.32" lengthAdjust="spacingAndGlyphs">AIP for Water Works   Road L12d (Final)</text>
<text x="363.00" y="913.70" font-size="9.08" textLength="29.87" lengthAdjust="spacingAndGlyphs">38 days</text>
<text x="417.90" y="913.70" font-size="9.08" textLength="29.87" lengthAdjust="spacingAndGlyphs">38 days</text>
<text x="473.50" y="913.70" font-size="9.08" textLength="11.95" lengthAdjust="spacingAndGlyphs">NA</text>
<text x="555.40" y="913.70" font-size="9.08" textLength="11.95" lengthAdjust="spacingAndGlyphs">NA</text>
<text x="637.50" y="913.70" font-size="8.99" textLength="49.31" lengthAdjust="spacingAndGlyphs">June 5, 2020</text>
<text x="719.40" y="913.70" font-size="8.99" textLength="50.91" lengthAdjust="spacingAndGlyphs">July 12, 2020</text>
<text x="801.30" y="913.70" font-size="8.99" textLength="56.55" lengthAdjust="spacingAndGlyphs">March 5, 2021</text>
<text x="888.60" y="913.70" font-size="8.99" textLength="54.63" lengthAdjust="spacingAndGlyphs">April 11, 2021</text>
<text x="970.70" y="913.70" font-size="9.08" textLength="11.92" lengthAdjust="spacingAndGlyphs">0%</text>
<text x="1015.00" y="913.70" font-size="9.08" textLength="29.87" lengthAdjust="spacingAndGlyphs">52 days</text>
<text x="1054.45" y="913.70" font-size="9.08" textLength="32.33" lengthAdjust="spacingAndGlyphs">0.5 days</text>
<text x="1104.05" y="913.70" font-size="9.08" textLength="34.81" lengthAdjust="spacingAndGlyphs">273 days</text>
<text x="65.20" y="929.60" font-size="10.00" textLength="14.99" lengthAdjust="spacingAndGlyphs" transform="matrix(1 0 0 1.04 0 -37.184)">260</text>
<text x="133.10" y="928.70" font-size="9.08" textLength="160.75" lengthAdjust="spacingAndGlyphs">DDA for Water Works   Road L12d (Draft)</text>
<text x="363.00" y="928.70" font-size="9.08" textLength="29.87" lengthAdjust="spacingAndGlyphs">90 days</text>
<text x="417.90" y="928.70" font-size="9.08" textLength="29.87" lengthAdjust="spacingAndGlyphs">90 days</text>
<text x="473.50" y="928.70" font-size="9.08" textLength="11.95" lengthAdjust="spacingAndGlyphs">NA</text>
<text x="555.40" y="928.70" font-size="9.08" textLength="11.95" lengthAdjust="spacingAndGlyphs">NA</text>
<text x="637.50" y="928.70" font-size="8.99" textLength="49.31" lengthAdjust="spacingAndGlyphs">June 5, 2020</text>
<text x="719.40" y="928.70" font-size="8.99" textLength="74.46" lengthAdjust="spacingAndGlyphs">September 2, 2020</text>
<text x="801.30" y="928.70" font-size="8.99" textLength="66.44" lengthAdjust="spacingAndGlyphs">January 12, 2021</text>
<text x="888.60" y="928.70" font-size="8.99" textLength="54.63" lengthAdjust="spacingAndGlyphs">April 11, 2021</text>
<text x="970.70" y="928.70" font-size="9.08" textLength="11.92" lengthAdjust="spacingAndGlyphs">0%</text>
<text x="1015.00" y="928.70" font-size="9.08" textLength="24.92" lengthAdjust="spacingAndGlyphs">0 days</text>
<text x="1054.45" y="928.70" font-size="9.08" textLength="21.19" lengthAdjust="spacingAndGlyphs">1 day</text>
<text x="1104.05" y="928.70" font-size="9.08" textLength="34.81" lengthAdjust="spacingAndGlyphs">221 days</text>
<text x="65.20" y="944.60" font-size="10.00" textLength="14.99" lengthAdjust="spacingAndGlyphs" transform="matrix(1 0 0 1.04 0 -37.784)">261</text>
<text x="133.10" y="943.70" font-size="9.08" textLength="159.69" lengthAdjust="spacingAndGlyphs">DDA for Water Works   Road L12d (Final)</text>
<text x="363.00" y="943.70" font-size="9.08" textLength="29.87" lengthAdjust="spacingAndGlyphs">52 days</text>
<text x="417.90" y="943.70" font-size="9.08" textLength="29.87" lengthAdjust="spacingAndGlyphs">52 days</text>
<text x="473.50" y="943.70" font-size="9.08" textLength="11.95" lengthAdjust="spacingAndGlyphs">NA</text>
<text x="555.40" y="943.70" font-size="9.08" textLength="11.95" lengthAdjust="spacingAndGlyphs">NA</text>
<text x="637.50" y="943.70" font-size="8.99" textLength="74.46" lengthAdjust="spacingAndGlyphs">September 3, 2020</text>
<text x="719.40" y="943.70" font-size="8.99" textLength="68.14" lengthAdjust="spacingAndGlyphs">October 24, 2020</text>
<text x="801.30" y="943.70" font-size="8.99" textLength="54.63" lengthAdjust="spacingAndGlyphs">April 12, 2021</text>
<text x="888.60" y="943.70" font-size="8.99" textLength="49.31" lengthAdjust="spacingAndGlyphs">June 2, 2021</text>
<text x="970.70" y="943.70" font-size="9.08" textLength="11.92" lengthAdjust="spacingAndGlyphs">0%</text>
<text x="1015.00" y="943.70" font-size="9.08" textLength="34.81" lengthAdjust="spacingAndGlyphs">204 days</text>
<text x="1054.45" y="943.70" font-size="9.08" textLength="21.19" lengthAdjust="spacingAndGlyphs">1 day</text>
<text x="1104.05" y="943.70" font-size="9.08" textLength="34.81" lengthAdjust="spacingAndGlyphs">221 days</text>
<text x="65.20" y="959.60" font-size="10.00" textLength="14.99" lengthAdjust="spacingAndGlyphs" transform="matrix(1 0 0 1.04 0 -38.384)">262</text>
<text x="133.10" y="958.70" font-size="9.08" textLength="206.36" lengthAdjust="spacingAndGlyphs">AIP for Water Works   Waterfront Promenade and at</text>
<text x="133.10" y="970.50" font-size="9.08" textLength="99.67" lengthAdjust="spacingAndGlyphs">grade Open Space (Draft)</text>
<text x="363.00" y="958.70" font-size="9.08" textLength="29.87" lengthAdjust="spacingAndGlyphs">60 days</text>
<text x="417.90" y="958.70" font-size="9.08" textLength="29.87" lengthAdjust="spacingAndGlyphs">60 days</text>
<text x="473.50" y="958.70" font-size="9.08" textLength="11.95" lengthAdjust="spacingAndGlyphs">NA</text>
<text x="555.40" y="958.70" font-size="9.08" textLength="11.95" lengthAdjust="spacingAndGlyphs">NA</text>
<text x="637.50" y="958.70" font-size="8.99" textLength="49.31" lengthAdjust="spacingAndGlyphs">June 5, 2020</text>
<text x="719.40" y="958.70" font-size="8.99" textLength="58.47" lengthAdjust="spacingAndGlyphs">August 3, 2020</text>
<text x="801.30" y="958.70" font-size="8.99" textLength="79.36" lengthAdjust="spacingAndGlyphs">September 14, 2020</text>
<text x="888.60" y="958.70" font-size="8.99" textLength="77.50" lengthAdjust="spacingAndGlyphs">November 12, 2020</text>
<text x="970.70" y="958.70" font-size="9.08" textLength="11.92" lengthAdjust="spacingAndGlyphs">0%</text>
<text x="1015.00" y="958.70" font-size="9.08" textLength="24.92" lengthAdjust="spacingAndGlyphs">0 days</text>
<text x="1054.45" y="958.70" font-size="9.08" textLength="21.19" lengthAdjust="spacingAndGlyphs">1 day</text>
<text x="1104.05" y="958.70" font-size="9.08" textLength="34.81" lengthAdjust="spacingAndGlyphs">101 days</text>
<text x="65.20" y="984.08" font-size="10.00" textLength="14.99" lengthAdjust="spacingAndGlyphs" transform="matrix(1 0 0 1.04 0 -39.363)">263</text>
<text x="133.10" y="983.18" font-size="9.08" textLength="206.36" lengthAdjust="spacingAndGlyphs">AIP for Water Works   Waterfront Promenade and at</text>
<text x="133.10" y="994.98" font-size="9.08" textLength="98.61" lengthAdjust="spacingAndGlyphs">grade Open Space (Final)</text>
<text x="363.00" y="983.18" font-size="9.08" textLength="29.87" lengthAdjust="spacingAndGlyphs">38 days</text>
<text x="417.90" y="983.18" font-size="9.08" textLength="29.87" lengthAdjust="spacingAndGlyphs">38 days</text>
<text x="473.50" y="983.18" font-size="9.08" textLength="11.95" lengthAdjust="spacingAndGlyphs">NA</text>
<text x="555.40" y="983.18" font-size="9.08" textLength="11.95" lengthAdjust="spacingAndGlyphs">NA</text>
<text x="637.50" y="983.18" font-size="8.99" textLength="58.47" lengthAdjust="spacingAndGlyphs">August 4, 2020</text>
<text x="719.40" y="983.18" font-size="8.99" textLength="79.36" lengthAdjust="spacingAndGlyphs">September 10, 2020</text>
<text x="801.30" y="983.18" font-size="8.99" textLength="56.55" lengthAdjust="spacingAndGlyphs">March 5, 2021</text>
<text x="888.60" y="983.18" font-size="8.99" textLength="54.63" lengthAdjust="spacingAndGlyphs">April 11, 2021</text>
<text x="970.70" y="983.18" font-size="9.08" textLength="11.92" lengthAdjust="spacingAndGlyphs">0%</text>
<text x="1015.00" y="983.18" font-size="9.08" textLength="29.87" lengthAdjust="spacingAndGlyphs">52 days</text>
<text x="1054.45" y="983.18" font-size="9.08" textLength="32.33" lengthAdjust="spacingAndGlyphs">0.5 days</text>
<text x="1104.05" y="983.18" font-size="9.08" textLength="34.81" lengthAdjust="spacingAndGlyphs">213 days</text>
<text x="65.20" y="1008.56" font-size="10.00" textLength="14.99" lengthAdjust="spacingAndGlyphs" transform="matrix(1 0 0 1.04 0 -40.342)">264</text>
<text x="133.10" y="1007.66" font-size="9.08" textLength="210.72" lengthAdjust="spacingAndGlyphs">DDA for Water Works   Waterfront Promenade and at</text>
<text x="133.10" y="1019.46" font-size="9.08" textLength="99.67" lengthAdjust="spacingAndGlyphs">grade Open Space (Draft)</text>
<text x="363.00" y="1007.66" font-size="9.08" textLength="29.87" lengthAdjust="spacingAndGlyphs">90 days</text>
<text x="417.90" y="1007.66" font-size="9.08" textLength="29.87" lengthAdjust="spacingAndGlyphs">90 days</text>
<text x="473.50" y="1007.66" font-size="9.08" textLength="11.95" lengthAdjust="spacingAndGlyphs">NA</text>
<text x="555.40" y="1007.66" font-size="9.08" textLength="11.95" lengthAdjust="spacingAndGlyphs">NA</text>
<text x="637.50" y="1007.66" font-size="8.99" textLength="58.47" lengthAdjust="spacingAndGlyphs">August 4, 2020</text>
<text x="719.40" y="1007.66" font-size="8.99" textLength="72.61" lengthAdjust="spacingAndGlyphs">November 1, 2020</text>
<text x="801.30" y="1007.66" font-size="8.99" textLength="66.44" lengthAdjust="spacingAndGlyphs">January 12, 2021</text>
<text x="888.60" y="1007.66" font-size="8.99" textLength="54.63" lengthAdjust="spacingAndGlyphs">April 11, 2021</text>
<text x="970.70" y="1007.66" font-size="9.08" textLength="11.92" lengthAdjust="spacingAndGlyphs">0%</text>
<text x="1015.00" y="1007.66" font-size="9.08" textLength="24.92" lengthAdjust="spacingAndGlyphs">0 days</text>
<text x="1054.45" y="1007.66" font-size="9.08" textLength="21.19" lengthAdjust="spacingAndGlyphs">1 day</text>
<text x="1104.05" y="1007.66" font-size="9.08" textLength="34.81" lengthAdjust="spacingAndGlyphs">161 days</text>
<text x="65.20" y="1033.04" font-size="10.00" textLength="14.99" lengthAdjust="spacingAndGlyphs" transform="matrix(1 0 0 1.04 0 -41.322)">265</text>
<text x="133.10" y="1032.14" font-size="9.08" textLength="210.72" lengthAdjust="spacingAndGlyphs">DDA for Water Works   Waterfront Promenade and at</text>
<text x="133.10" y="1043.94" font-size="9.08" textLength="98.61" lengthAdjust="spacingAndGlyphs">grade Open Space (Final)</text>
<text x="363.00" y="1032.14" font-size="9.08" textLength="29.87" lengthAdjust="spacingAndGlyphs">52 days</text>
<text x="417.90" y="1032.14" font-size="9.08" textLength="29.87" lengthAdjust="spacingAndGlyphs">52 days</text>
<text x="473.50" y="1032.14" font-size="9.08" textLength="11.95" lengthAdjust="spacingAndGlyphs">NA</text>
<text x="555.40" y="1032.14" font-size="9.08" textLength="11.95" lengthAdjust="spacingAndGlyphs">NA</text>
<text x="637.50" y="1032.14" font-size="8.99" textLength="72.61" lengthAdjust="spacingAndGlyphs">November 2, 2020</text>
<text x="719.40" y="1032.14" font-size="8.99" textLength="76.78" lengthAdjust="spacingAndGlyphs">December 23, 2020</text>
<text x="801.30" y="1032.14" font-size="8.99" textLength="54.63" lengthAdjust="spacingAndGlyphs">April 12, 2021</text>
<text x="888.60" y="1032.14" font-size="8.99" textLength="49.31" lengthAdjust="spacingAndGlyphs">June 2, 2021</text>
<text x="970.70" y="1032.14" font-size="9.08" textLength="11.92" lengthAdjust="spacingAndGlyphs">0%</text>
<text x="1015.00" y="1032.14" font-size="9.08" textLength="34.81" lengthAdjust="spacingAndGlyphs">144 days</text>
<text x="1054.45" y="1032.14" font-size="9.08" textLength="21.19" lengthAdjust="spacingAndGlyphs">1 day</text>
<text x="1104.05" y="1032.14" font-size="9.08" textLength="34.81" lengthAdjust="spacingAndGlyphs">161 days</text>
<text x="65.20" y="1057.52" font-size="10.00" textLength="14.99" lengthAdjust="spacingAndGlyphs" transform="matrix(1 0 0 1.04 0 -42.301)">266</text>
<text x="133.10" y="1056.62" font-size="9.08" textLength="207.68" lengthAdjust="spacingAndGlyphs">AIP for Water Works   Remaining water works (Draft)</text>
<text x="363.00" y="1056.62" font-size="9.08" textLength="29.87" lengthAdjust="spacingAndGlyphs">60 days</text>
<text x="417.90" y="1056.62" font-size="9.08" textLength="29.87" lengthAdjust="spacingAndGlyphs">60 days</text>
<text x="473.50" y="1056.62" font-size="9.08" textLength="11.95" lengthAdjust="spacingAndGlyphs">NA</text>
<text x="555.40" y="1056.62" font-size="9.08" textLength="11.95" lengthAdjust="spacingAndGlyphs">NA</text>
<text x="637.50" y="1056.62" font-size="8.99" textLength="58.47" lengthAdjust="spacingAndGlyphs">August 4, 2020</text>
<text x="719.40" y="1056.62" font-size="8.99" textLength="63.24" lengthAdjust="spacingAndGlyphs">October 2, 2020</text>
<text x="801.30" y="1056.62" font-size="8.99" textLength="77.50" lengthAdjust="spacingAndGlyphs">November 13, 2020</text>
<text x="888.60" y="1056.62" font-size="8.99" textLength="66.44" lengthAdjust="spacingAndGlyphs">January 11, 2021</text>
<text x="970.70" y="1056.62" font-size="9.08" textLength="11.92" lengthAdjust="spacingAndGlyphs">0%</text>
<text x="1015.00" y="1056.62" font-size="9.08" textLength="24.92" lengthAdjust="spacingAndGlyphs">0 days</text>
<text x="1054.45" y="1056.62" font-size="9.08" textLength="21.19" lengthAdjust="spacingAndGlyphs">1 day</text>
<text x="1104.05" y="1056.62" font-size="9.08" textLength="34.81" lengthAdjust="spacingAndGlyphs">101 days</text>
<text x="65.20" y="1082.00" font-size="10.00" textLength="14.99" lengthAdjust="spacingAndGlyphs" transform="matrix(1 0 0 1.04 0 -43.280)">267</text>
<text x="133.10" y="1081.10" font-size="9.08" textLength="206.61" lengthAdjust="spacingAndGlyphs">AIP for Water Works   Remaining water works (Final)</text>
<text x="363.00" y="1081.10" font-size="9.08" textLength="29.87" lengthAdjust="spacingAndGlyphs">38 days</text>
<text x="417.90" y="1081.10" font-size="9.08" textLength="29.87" lengthAdjust="spacingAndGlyphs">38 days</text>
<text x="473.50" y="1081.10" font-size="9.08" textLength="11.95" lengthAdjust="spacingAndGlyphs">NA</text>
<text x="555.40" y="1081.10" font-size="9.08" textLength="11.95" lengthAdjust="spacingAndGlyphs">NA</text>
<text x="637.50" y="1081.10" font-size="8.99" textLength="63.24" lengthAdjust="spacingAndGlyphs">October 3, 2020</text>
<text x="719.40" y="1081.10" font-size="8.99" textLength="72.61" lengthAdjust="spacingAndGlyphs">November 9, 2020</text>
<text x="801.30" y="1081.10" font-size="8.99" textLength="56.55" lengthAdjust="spacingAndGlyphs">March 5, 2021</text>
<text x="888.60" y="1081.10" font-size="8.99" textLength="54.63" lengthAdjust="spacingAndGlyphs">April 11, 2021</text>
<text x="970.70" y="1081.10" font-size="9.08" textLength="11.92" lengthAdjust="spacingAndGlyphs">0%</text>
<text x="1015.00" y="1081.10" font-size="9.08" textLength="29.87" lengthAdjust="spacingAndGlyphs">52 days</text>
<text x="1054.45" y="1081.10" font-size="9.08" textLength="32.33" lengthAdjust="spacingAndGlyphs">0.5 days</text>
<text x="1104.05" y="1081.10" font-size="9.08" textLength="34.81" lengthAdjust="spacingAndGlyphs">153 days</text>
<g clip-path="url(#gc)">
<rect x="1292.63" y="116.60" width="3.88" height="2.60" fill="#8ab8ec"/>
<rect x="1292.63" y="119.00" width="3.88" height="3.40" fill="#595959"/>
<rect x="1237.78" y="141.08" width="16.62" height="2.60" fill="#8ab8ec"/>
<rect x="1237.78" y="143.48" width="16.62" height="3.40" fill="#595959"/>
<rect x="1254.40" y="165.56" width="10.53" height="2.60" fill="#8ab8ec"/>
<rect x="1254.40" y="167.96" width="10.53" height="3.40" fill="#595959"/>
<rect x="1254.40" y="190.04" width="24.93" height="2.60" fill="#8ab8ec"/>
<rect x="1254.40" y="192.44" width="24.93" height="3.40" fill="#595959"/>
<rect x="1279.33" y="214.52" width="14.40" height="2.60" fill="#8ab8ec"/>
<rect x="1279.33" y="216.92" width="14.40" height="3.40" fill="#595959"/>
<rect x="1205.14" y="240.10" width="11.00" height="2.90" fill="#9a9a9a"/>
<rect x="1203.64" y="238.60" width="71.88" height="1.80" fill="#505050"/>
<rect x="1203.64" y="242.70" width="71.88" height="1.80" fill="#505050"/>
<rect x="1203.54" y="238.10" width="1.90" height="6.90" fill="#505050"/>
<rect x="1273.72" y="238.10" width="1.90" height="6.90" fill="#505050"/>
<rect x="1204.54" y="253.70" width="16.62" height="2.90" fill="#ffb4b4"/>
<rect x="1204.54" y="256.40" width="16.62" height="3.40" fill="#595959"/>
<rect x="1204.54" y="253.50" width="11.30" height="3.10" fill="#ff0000"/>
<rect x="1221.16" y="269.00" width="16.62" height="2.60" fill="#ffb4b4"/>
<rect x="1221.16" y="271.40" width="16.62" height="3.40" fill="#595959"/>
<rect x="1237.78" y="293.18" width="4.15" height="2.90" fill="#ffb4b4"/>
<rect x="1237.78" y="295.88" width="4.15" height="3.40" fill="#595959"/>
<rect x="1204.54" y="308.18" width="37.39" height="2.90" fill="#ffb4b4"/>
<rect x="1204.54" y="310.88" width="37.39" height="3.40" fill="#595959"/>
<rect x="1204.54" y="307.98" width="11.22" height="3.10" fill="#ff0000"/>
<rect x="1241.94" y="323.48" width="18.28" height="2.60" fill="#ffb4b4"/>
<rect x="1241.94" y="325.88" width="18.28" height="3.40" fill="#595959"/>
<rect x="1260.22" y="347.66" width="3.88" height="2.90" fill="#ffb4b4"/>
<rect x="1260.22" y="350.36" width="3.88" height="3.40" fill="#595959"/>
<rect x="1264.10" y="362.96" width="10.53" height="2.60" fill="#ffb4b4"/>
<rect x="1264.10" y="365.36" width="10.53" height="3.40" fill="#595959"/>
<rect x="1236.05" y="387.04" width="61.35" height="1.80" fill="#3a3a3a"/>
<rect x="1236.05" y="391.14" width="61.35" height="1.80" fill="#3a3a3a"/>
<rect x="1235.95" y="386.54" width="1.90" height="6.90" fill="#3a3a3a"/>
<rect x="1295.60" y="386.54" width="1.90" height="6.90" fill="#3a3a3a"/>
<rect x="1236.95" y="402.14" width="16.62" height="2.90" fill="#ffb4b4"/>
<rect x="1236.95" y="404.84" width="16.62" height="3.40" fill="#595959"/>
<rect x="1253.57" y="417.44" width="16.62" height="2.60" fill="#8ab8ec"/>
<rect x="1253.57" y="419.84" width="16.62" height="3.40" fill="#595959"/>
<rect x="1270.19" y="441.62" width="5.54" height="2.90" fill="#8ab8ec"/>
<rect x="1270.19" y="444.32" width="5.54" height="3.40" fill="#595959"/>
<rect x="1236.95" y="456.62" width="24.93" height="2.90" fill="#ffb4b4"/>
<rect x="1236.95" y="459.32" width="24.93" height="3.40" fill="#595959"/>
<rect x="1261.88" y="471.92" width="15.23" height="2.60" fill="#ffb4b4"/>
<rect x="1261.88" y="474.32" width="15.23" height="3.40" fill="#595959"/>
<rect x="1277.12" y="496.10" width="2.77" height="2.90" fill="#ffb4b4"/>
<rect x="1277.12" y="498.80" width="2.77" height="3.40" fill="#595959"/>
<rect x="1279.89" y="511.40" width="16.62" height="2.60" fill="#ffb4b4"/>
<rect x="1279.89" y="513.80" width="16.62" height="3.40" fill="#595959"/>
<rect x="1236.05" y="535.48" width="124.23" height="1.80" fill="#3a3a3a"/>
<rect x="1236.05" y="539.58" width="124.23" height="1.80" fill="#3a3a3a"/>
<rect x="1235.95" y="534.98" width="1.90" height="6.90" fill="#3a3a3a"/>
<rect x="1358.48" y="534.98" width="1.90" height="6.90" fill="#3a3a3a"/>
<rect x="1236.95" y="550.88" width="16.62" height="2.60" fill="#8ab8ec"/>
<rect x="1236.95" y="553.28" width="16.62" height="3.40" fill="#595959"/>
<rect x="1253.57" y="575.36" width="16.62" height="2.60" fill="#8ab8ec"/>
<rect x="1253.57" y="577.76" width="16.62" height="3.40" fill="#595959"/>
<rect x="1270.19" y="599.84" width="2.77" height="2.60" fill="#8ab8ec"/>
<rect x="1270.19" y="602.24" width="2.77" height="3.40" fill="#595959"/>
<rect x="1272.96" y="624.32" width="24.93" height="2.60" fill="#8ab8ec"/>
<rect x="1272.96" y="626.72" width="24.93" height="3.40" fill="#595959"/>
<rect x="1297.89" y="648.80" width="16.62" height="2.60" fill="#8ab8ec"/>
<rect x="1297.89" y="651.20" width="16.62" height="3.40" fill="#595959"/>
<rect x="1314.51" y="673.28" width="2.77" height="2.60" fill="#8ab8ec"/>
<rect x="1314.51" y="675.68" width="2.77" height="3.40" fill="#595959"/>
<rect x="1317.28" y="697.76" width="16.62" height="2.60" fill="#8ab8ec"/>
<rect x="1317.28" y="700.16" width="16.62" height="3.40" fill="#595959"/>
<rect x="1253.57" y="722.24" width="16.62" height="2.60" fill="#8ab8ec"/>
<rect x="1253.57" y="724.64" width="16.62" height="3.40" fill="#595959"/>
<rect x="1270.19" y="746.72" width="16.62" height="2.60" fill="#8ab8ec"/>
<rect x="1270.19" y="749.12" width="16.62" height="3.40" fill="#595959"/>
<rect x="1286.81" y="771.20" width="2.77" height="2.60" fill="#8ab8ec"/>
<rect x="1286.81" y="773.60" width="2.77" height="3.40" fill="#595959"/>
<rect x="1289.58" y="795.68" width="24.93" height="2.60" fill="#8ab8ec"/>
<rect x="1289.58" y="798.08" width="24.93" height="3.40" fill="#595959"/>
<rect x="1314.51" y="820.16" width="16.62" height="2.60" fill="#8ab8ec"/>
<rect x="1314.51" y="822.56" width="16.62" height="3.40" fill="#595959"/>
<rect x="1331.13" y="844.64" width="2.77" height="2.60" fill="#8ab8ec"/>
<rect x="1331.13" y="847.04" width="2.77" height="3.40" fill="#595959"/>
<rect x="1333.90" y="869.12" width="16.62" height="2.60" fill="#8ab8ec"/>
<rect x="1333.90" y="871.52" width="16.62" height="3.40" fill="#595959"/>
<rect x="1270.19" y="893.30" width="16.62" height="2.90" fill="#8ab8ec"/>
<rect x="1270.19" y="896.00" width="16.62" height="3.40" fill="#595959"/>
<rect x="1286.81" y="908.30" width="10.53" height="2.90" fill="#8ab8ec"/>
<rect x="1286.81" y="911.00" width="10.53" height="3.40" fill="#595959"/>
<rect x="1286.81" y="923.30" width="24.93" height="2.90" fill="#8ab8ec"/>
<rect x="1286.81" y="926.00" width="24.93" height="3.40" fill="#595959"/>
<rect x="1311.74" y="938.30" width="14.40" height="2.90" fill="#8ab8ec"/>
<rect x="1311.74" y="941.00" width="14.40" height="3.40" fill="#595959"/>
<rect x="1286.81" y="953.60" width="16.62" height="2.60" fill="#8ab8ec"/>
<rect x="1286.81" y="956.00" width="16.62" height="3.40" fill="#595959"/>
<rect x="1303.43" y="978.08" width="10.53" height="2.60" fill="#8ab8ec"/>
<rect x="1303.43" y="980.48" width="10.53" height="3.40" fill="#595959"/>
<rect x="1303.43" y="1002.56" width="24.93" height="2.60" fill="#8ab8ec"/>
<rect x="1303.43" y="1004.96" width="24.93" height="3.40" fill="#595959"/>
<rect x="1328.36" y="1027.04" width="14.40" height="2.60" fill="#8ab8ec"/>
<rect x="1328.36" y="1029.44" width="14.40" height="3.40" fill="#595959"/>
<rect x="1303.43" y="1051.52" width="16.62" height="2.60" fill="#8ab8ec"/>
<rect x="1303.43" y="1053.92" width="16.62" height="3.40" fill="#595959"/>
<rect x="1320.05" y="1076.00" width="10.53" height="2.60" fill="#8ab8ec"/>
<rect x="1320.05" y="1078.40" width="10.53" height="3.40" fill="#595959"/>
<g style="mix-blend-mode:multiply">
<line x1="1179.50" y1="112.00" x2="1179.50" y2="1094.80" stroke="#bcbcbc" stroke-width="1.0"/>
<line x1="1186.90" y1="112.00" x2="1186.90" y2="1094.80" stroke="#7f7f7f" stroke-width="1.9"/>
<line x1="1215.50" y1="112.00" x2="1215.50" y2="1094.80" stroke="#ff6868" stroke-width="1.0"/>
<line x1="1216.50" y1="112.00" x2="1216.50" y2="1094.80" stroke="#86ace6" stroke-width="1.0"/>
<line x1="1217.50" y1="112.00" x2="1217.50" y2="1094.80" stroke="#a6d6a6" stroke-width="1.0"/>
<line x1="1220.00" y1="112.00" x2="1220.00" y2="1094.80" stroke="#b4b4b4" stroke-width="1.9"/>
<line x1="1222.00" y1="112.00" x2="1222.00" y2="1094.80" stroke="#d6e6fa" stroke-width="1.0"/>
<line x1="1223.50" y1="112.00" x2="1223.50" y2="1094.80" stroke="#3c72ba" stroke-width="1.0"/>
<line x1="1225.50" y1="112.00" x2="1225.50" y2="1094.80" stroke="#ffc8c8" stroke-width="1.0"/>
<line x1="1227.00" y1="112.00" x2="1227.00" y2="1094.80" stroke="#4a649c" stroke-width="1.8"/>
<line x1="1231.50" y1="112.00" x2="1231.50" y2="1094.80" stroke="#3c72ba" stroke-width="1.0"/>
<line x1="1234.00" y1="112.00" x2="1234.00" y2="1094.80" stroke="#9cc4f0" stroke-width="1.0"/>
<line x1="1235.60" y1="112.00" x2="1235.60" y2="1094.80" stroke="#3b86dc" stroke-width="2.1"/>
<line x1="1238.50" y1="112.00" x2="1238.50" y2="1094.80" stroke="#000000" stroke-width="1.1"/>
<line x1="1240.50" y1="112.00" x2="1240.50" y2="547.00" stroke="#f09aa0" stroke-width="1.0"/>
<line x1="1241.50" y1="112.00" x2="1241.50" y2="1094.80" stroke="#8c8c8c" stroke-width="1.0"/>
<line x1="1246.50" y1="112.00" x2="1246.50" y2="1094.80" stroke="#2e2e2e" stroke-width="1.1"/>
<line x1="1249.50" y1="112.00" x2="1249.50" y2="1094.80" stroke="#f0a0a0" stroke-width="1.0"/>
<line x1="1251.50" y1="112.00" x2="1251.50" y2="1094.80" stroke="#8a8a8a" stroke-width="1.0"/>
<line x1="1252.50" y1="112.00" x2="1252.50" y2="1094.80" stroke="#7fb0f0" stroke-width="1.0"/>
<line x1="1265.50" y1="112.00" x2="1265.50" y2="1094.80" stroke="#f0a0a0" stroke-width="1.0"/>
<line x1="1272.50" y1="112.00" x2="1272.50" y2="1094.80" stroke="#a04848" stroke-width="1.0"/>
<line x1="1274.60" y1="244.00" x2="1274.60" y2="1094.80" stroke="#4c4c4c" stroke-width="1.0"/>
<line x1="1279.50" y1="112.00" x2="1279.50" y2="1094.80" stroke="#a04848" stroke-width="1.0"/>
<line x1="1283.80" y1="112.00" x2="1283.80" y2="1094.80" stroke="#86b4ea" stroke-width="1.7"/>
<line x1="1285.80" y1="112.00" x2="1285.80" y2="1094.80" stroke="#3f8ade" stroke-width="2.1"/>
<line x1="1289.50" y1="112.00" x2="1289.50" y2="1094.80" stroke="#000000" stroke-width="1.1"/>
<line x1="1293.50" y1="112.00" x2="1293.50" y2="1094.80" stroke="#ff9292" stroke-width="1.0"/>
<line x1="1294.50" y1="112.00" x2="1294.50" y2="1094.80" stroke="#4070b0" stroke-width="1.0"/>
<line x1="1296.50" y1="112.00" x2="1296.50" y2="1094.80" stroke="#606060" stroke-width="1.0"/>
<line x1="1303.50" y1="112.00" x2="1303.50" y2="1094.80" stroke="#90b8f0" stroke-width="1.0"/>
<line x1="1307.50" y1="112.00" x2="1307.50" y2="1094.80" stroke="#545454" stroke-width="1.0"/>
<line x1="1325.50" y1="112.00" x2="1325.50" y2="1094.80" stroke="#4070b0" stroke-width="1.0"/>
<line x1="1333.50" y1="112.00" x2="1333.50" y2="1094.80" stroke="#666666" stroke-width="1.0"/>
<line x1="1346.30" y1="112.00" x2="1346.30" y2="1094.80" stroke="#b4b4b4" stroke-width="1.8"/>
<line x1="1353.50" y1="112.00" x2="1353.50" y2="1094.80" stroke="#4a90e0" stroke-width="1.0"/>
<line x1="1356.50" y1="112.00" x2="1356.50" y2="1094.80" stroke="#6a6a6a" stroke-width="1.0"/>
<line x1="1362.50" y1="112.00" x2="1362.50" y2="1094.80" stroke="#86b4f0" stroke-width="1.0"/>
<line x1="1366.00" y1="112.00" x2="1366.00" y2="1094.80" stroke="#808080" stroke-width="1.9"/>
<line x1="1373.00" y1="112.00" x2="1373.00" y2="1094.80" stroke="#b8b8b8" stroke-width="1.9"/>
<line x1="1385.50" y1="112.00" x2="1385.50" y2="1094.80" stroke="#707070" stroke-width="1.0"/>
<line x1="1387.50" y1="112.00" x2="1387.50" y2="1094.80" stroke="#305080" stroke-width="1.1"/>
<line x1="1389.20" y1="112.00" x2="1389.20" y2="1094.80" stroke="#a06468" stroke-width="1.5"/>
<line x1="1391.50" y1="112.00" x2="1391.50" y2="1094.80" stroke="#606060" stroke-width="1.0"/>
<line x1="1397.50" y1="112.00" x2="1397.50" y2="1094.80" stroke="#101010" stroke-width="1.1"/>
<line x1="1398.50" y1="112.00" x2="1398.50" y2="1094.80" stroke="#7a2222" stroke-width="1.0"/>
<line x1="1415.50" y1="112.00" x2="1415.50" y2="1094.80" stroke="#707070" stroke-width="1.0"/>
<line x1="1420.50" y1="112.00" x2="1420.50" y2="1094.80" stroke="#707070" stroke-width="1.0"/>
<line x1="1432.00" y1="112.00" x2="1432.00" y2="1094.80" stroke="#808080" stroke-width="1.9"/>
<line x1="1439.50" y1="112.00" x2="1439.50" y2="1094.80" stroke="#303030" stroke-width="1.0"/>
<line x1="1444.80" y1="112.00" x2="1444.80" y2="1094.80" stroke="#b8b8b8" stroke-width="1.9"/>
<line x1="1452.50" y1="112.00" x2="1452.50" y2="1094.80" stroke="#5a98e8" stroke-width="1.0"/>
<line x1="1458.50" y1="112.00" x2="1458.50" y2="1094.80" stroke="#707070" stroke-width="1.0"/>
<line x1="1460.50" y1="112.00" x2="1460.50" y2="1094.80" stroke="#2a78d8" stroke-width="1.0"/>
<line x1="1466.50" y1="112.00" x2="1466.50" y2="1094.80" stroke="#702828" stroke-width="1.0"/>
<line x1="1490.50" y1="112.00" x2="1490.50" y2="1094.80" stroke="#707070" stroke-width="1.0"/>
<line x1="1492.50" y1="112.00" x2="1492.50" y2="1094.80" stroke="#707070" stroke-width="1.0"/>
<line x1="1510.50" y1="112.00" x2="1510.50" y2="1094.80" stroke="#606060" stroke-width="1.0"/>
<line x1="1522.50" y1="112.00" x2="1522.50" y2="1094.80" stroke="#4272b2" stroke-width="1.0"/>
<line x1="1524.00" y1="112.00" x2="1524.00" y2="1094.80" stroke="#a2bada" stroke-width="2.0"/>
<line x1="1525.50" y1="112.00" x2="1525.50" y2="1094.80" stroke="#3262a2" stroke-width="1.0"/>
<line x1="1532.50" y1="112.00" x2="1532.50" y2="1094.80" stroke="#707070" stroke-width="1.0"/>
<line x1="1586.50" y1="112.00" x2="1586.50" y2="1094.80" stroke="#2060a8" stroke-width="1.0"/>
<line x1="1588.50" y1="112.00" x2="1588.50" y2="1094.80" stroke="#8a8a8a" stroke-width="1.0"/>
<line x1="1589.50" y1="112.00" x2="1589.50" y2="1094.80" stroke="#3060a0" stroke-width="1.0"/>
<line x1="1592.50" y1="112.00" x2="1592.50" y2="1094.80" stroke="#602828" stroke-width="1.0"/>
<line x1="1690.50" y1="112.00" x2="1690.50" y2="1094.80" stroke="#b0b0b0" stroke-width="1.0"/>
<line x1="1693.50" y1="112.00" x2="1693.50" y2="1094.80" stroke="#301818" stroke-width="1.1"/>
</g>
<path d="M1180.40 112.00 L1180.40 253.40 Q1180.40 255.40 1182.40 255.40 L1201.20 255.40" fill="none" stroke="#5c9ae6" stroke-width="1.0" style="mix-blend-mode:multiply"/>
<line x1="1241.40" y1="112.00" x2="1241.40" y2="138.00" stroke="#3c72ba" stroke-width="1.0"/>
<path d="M1254.40 142.28 L1255.95 142.28 Q1257.50 142.28 1257.50 143.83 L1257.50 186.74" fill="none" stroke="#4a8fe2" stroke-width="1.0"/>
<path d="M1254.40 142.28 L1284.40 142.28 Q1286.40 142.28 1286.40 144.28 L1286.40 148.28" fill="none" stroke="#4a8fe2" stroke-width="1.0"/>
<path d="M1264.93 166.76 L1277.30 166.76 Q1279.30 166.76 1279.30 168.76 L1279.30 211.22" fill="none" stroke="#4868b8" stroke-width="1.0"/>
<path d="M1279.33 191.24 L1280.77 191.24 Q1282.20 191.24 1282.20 192.67 L1282.20 211.22" fill="none" stroke="#4a8fe2" stroke-width="1.0"/>
<path d="M1293.73 215.72 L1433.40 215.72 Q1435.40 215.72 1435.40 217.72 L1435.40 1094.80" fill="none" stroke="#4a8fe2" stroke-width="1.0" style="mix-blend-mode:multiply"/>
<path d="M1296.50 117.80 L1433.40 117.80 Q1435.40 117.80 1435.40 119.80 L1435.40 1094.80" fill="none" stroke="#4a8fe2" stroke-width="1.0" style="mix-blend-mode:multiply"/>
<path d="M1221.16 255.05 L1222.88 255.05 Q1224.60 255.05 1224.60 256.77 L1224.60 265.70" fill="none" stroke="#ef6a6a" stroke-width="1.0"/>
<path d="M1221.16 255.05 L1235.20 255.05 Q1237.20 255.05 1237.20 257.05 L1237.20 290.18" fill="none" stroke="#ef6a6a" stroke-width="1.0"/>
<path d="M1237.78 270.20 L1239.54 270.20 Q1241.30 270.20 1241.30 271.96 L1241.30 290.18" fill="none" stroke="#ef6a6a" stroke-width="1.0"/>
<path d="M1204.00 255.40 L1199.30 255.40 Q1197.30 255.40 1197.30 257.40 L1197.30 308.05 Q1197.30 310.00 1199.25 310.00 L1201.20 310.00" fill="none" stroke="#ef6a6a" stroke-width="1.0"/>
<path d="M1241.94 294.53 L1243.72 294.53 Q1245.50 294.53 1245.50 296.31 L1245.50 320.18" fill="none" stroke="#ef6a6a" stroke-width="1.0"/>
<path d="M1241.94 309.53 L1243.72 309.53 Q1245.50 309.53 1245.50 311.31 L1245.50 315.53" fill="none" stroke="#ef6a6a" stroke-width="1.0"/>
<path d="M1260.22 324.68 L1261.91 324.68 Q1263.60 324.68 1263.60 326.37 L1263.60 344.66" fill="none" stroke="#ef6a6a" stroke-width="1.0"/>
<path d="M1264.10 349.01 L1265.85 349.01 Q1267.60 349.01 1267.60 350.76 L1267.60 359.66" fill="none" stroke="#ef6a6a" stroke-width="1.0"/>
<path d="M1274.62 364.16 L1276.21 364.16 Q1277.80 364.16 1277.80 365.75 L1277.80 1094.80" fill="none" stroke="#f3a8a8" stroke-width="1.7" style="mix-blend-mode:multiply"/>
<path d="M1297.00 387.44 L1298.45 387.44 Q1299.90 387.44 1299.90 388.89 L1299.90 1094.80" fill="none" stroke="#b0b0b0" stroke-width="1.5" style="mix-blend-mode:multiply"/>
<path d="M1236.95 403.49 L1232.40 403.49 Q1230.40 403.49 1230.40 405.49 L1230.40 456.80 Q1230.40 458.40 1232.00 458.40 L1233.60 458.40" fill="none" stroke="#ef6a6a" stroke-width="1.0"/>
<path d="M1253.57 403.49 L1255.34 403.49 Q1257.10 403.49 1257.10 405.25 L1257.10 414.14" fill="none" stroke="#ef6a6a" stroke-width="1.0"/>
<path d="M1253.57 403.49 L1259.90 403.49 Q1261.90 403.49 1261.90 405.49 L1261.90 468.62" fill="none" stroke="#f9bcbc" stroke-width="1.6"/>
<path d="M1253.57 403.49 L1268.50 403.49 Q1270.50 403.49 1270.50 405.49 L1270.50 438.62" fill="none" stroke="#ef6a6a" stroke-width="1.0"/>
<path d="M1270.19 418.64 L1272.05 418.64 Q1273.90 418.64 1273.90 420.49 L1273.90 438.62" fill="none" stroke="#4a8fe2" stroke-width="1.0"/>
<path d="M1275.73 442.97 L1277.72 442.97 Q1279.70 442.97 1279.70 444.95 L1279.70 508.10" fill="none" stroke="#4a8fe2" stroke-width="1.0"/>
<path d="M1261.88 457.97 L1263.59 457.97 Q1265.30 457.97 1265.30 459.68 L1265.30 468.62" fill="none" stroke="#ef6a6a" stroke-width="1.0"/>
<path d="M1277.12 473.12 L1278.81 473.12 Q1280.50 473.12 1280.50 474.81 L1280.50 493.10" fill="none" stroke="#ef6a6a" stroke-width="1.0"/>
<path d="M1279.89 497.45 L1281.64 497.45 Q1283.40 497.45 1283.40 499.21 L1283.40 508.10" fill="none" stroke="#ef6a6a" stroke-width="1.0"/>
<path d="M1296.50 512.60 L1298.35 512.60 Q1300.20 512.60 1300.20 514.45 L1300.20 1094.80" fill="none" stroke="#e79c9c" stroke-width="1.5" style="mix-blend-mode:multiply"/>
<path d="M1359.88 535.98 L1379.30 535.98 Q1381.30 535.98 1381.30 537.98 L1381.30 1094.80" fill="none" stroke="#3c3c3c" stroke-width="0.9" style="mix-blend-mode:multiply"/>
<path d="M1359.88 535.98 L1433.40 535.98 Q1435.40 535.98 1435.40 537.98 L1435.40 1094.80" fill="none" stroke="#34466a" stroke-width="1.0" style="mix-blend-mode:multiply"/>
<path d="M1253.57 552.08 L1255.34 552.08 Q1257.10 552.08 1257.10 553.84 L1257.10 572.06" fill="none" stroke="#9cc2f0" stroke-width="1.6"/>
<line x1="1257.20" y1="581.66" x2="1257.20" y2="718.94" stroke="#b4d0f2" stroke-width="1.9"/>
<path d="M1253.57 552.08 L1268.50 552.08 Q1270.50 552.08 1270.50 554.08 L1270.50 596.54" fill="none" stroke="#4a8fe2" stroke-width="1.0"/>
<path d="M1253.57 552.08 L1270.90 552.08 Q1272.90 552.08 1272.90 554.08 L1272.90 621.02" fill="none" stroke="#4a8fe2" stroke-width="1.0"/>
<path d="M1270.19 576.56 L1271.95 576.56 Q1273.70 576.56 1273.70 578.31 L1273.70 596.54" fill="none" stroke="#4a8fe2" stroke-width="1.0"/>
<path d="M1272.96 601.04 L1274.63 601.04 Q1276.30 601.04 1276.30 602.71 L1276.30 621.02" fill="none" stroke="#4a8fe2" stroke-width="1.0"/>
<path d="M1297.89 625.52 L1299.74 625.52 Q1301.60 625.52 1301.60 627.38 L1301.60 645.50" fill="none" stroke="#4a8fe2" stroke-width="1.0"/>
<path d="M1314.51 650.00 L1316.40 650.00 Q1318.30 650.00 1318.30 651.90 L1318.30 669.98" fill="none" stroke="#a9c9f2" stroke-width="1.4"/>
<path d="M1317.28 674.48 L1318.99 674.48 Q1320.70 674.48 1320.70 676.19 L1320.70 694.46" fill="none" stroke="#4a8fe2" stroke-width="1.0"/>
<path d="M1333.90 698.96 L1379.30 698.96 Q1381.30 698.96 1381.30 700.96 L1381.30 1094.80" fill="none" stroke="#4a8fe2" stroke-width="1.0"/>
<path d="M1270.19 723.44 L1271.90 723.44 Q1273.60 723.44 1273.60 725.14 L1273.60 890.30" fill="none" stroke="#4a8fe2" stroke-width="1.0"/>
<path d="M1270.19 723.44 L1286.70 723.44 Q1288.70 723.44 1288.70 725.44 L1288.70 767.90" fill="none" stroke="#4a8fe2" stroke-width="1.0"/>
<path d="M1286.81 747.92 L1288.60 747.92 Q1290.40 747.92 1290.40 749.72 L1290.40 767.90" fill="none" stroke="#4a8fe2" stroke-width="1.0"/>
<path d="M1289.58 772.40 L1291.29 772.40 Q1293.00 772.40 1293.00 774.11 L1293.00 792.38" fill="none" stroke="#a9c9f2" stroke-width="1.4"/>
<path d="M1314.51 796.88 L1316.30 796.88 Q1318.10 796.88 1318.10 798.68 L1318.10 816.86" fill="none" stroke="#a9c9f2" stroke-width="1.4"/>
<path d="M1331.13 821.36 L1332.76 821.36 Q1334.40 821.36 1334.40 823.00 L1334.40 841.34" fill="none" stroke="#4a8fe2" stroke-width="1.0"/>
<path d="M1333.90 845.84 L1335.65 845.84 Q1337.40 845.84 1337.40 847.59 L1337.40 865.82" fill="none" stroke="#4a8fe2" stroke-width="1.0"/>
<path d="M1350.52 870.32 L1379.30 870.32 Q1381.30 870.32 1381.30 872.32 L1381.30 878.32" fill="none" stroke="#4a8fe2" stroke-width="1.0"/>
<path d="M1286.81 894.65 L1288.60 894.65 Q1290.40 894.65 1290.40 896.45 L1290.40 950.30" fill="none" stroke="#4a8fe2" stroke-width="1.0"/>
<path d="M1297.34 909.65 L1309.90 909.65 Q1311.90 909.65 1311.90 911.65 L1311.90 935.30" fill="none" stroke="#4a8fe2" stroke-width="1.0"/>
<path d="M1311.74 924.65 L1313.80 924.65 Q1315.80 924.65 1315.80 926.65 L1315.80 935.30" fill="none" stroke="#4a8fe2" stroke-width="1.0"/>
<path d="M1326.14 939.65 L1379.30 939.65 Q1381.30 939.65 1381.30 941.65 L1381.30 947.65" fill="none" stroke="#4a8fe2" stroke-width="1.0"/>
<path d="M1303.43 954.80 L1305.21 954.80 Q1307.00 954.80 1307.00 956.59 L1307.00 1048.22" fill="none" stroke="#4a8fe2" stroke-width="1.0"/>
<path d="M1313.95 979.28 L1326.60 979.28 Q1328.60 979.28 1328.60 981.28 L1328.60 1023.74" fill="none" stroke="#4a8fe2" stroke-width="1.0"/>
<path d="M1328.36 1003.76 L1329.98 1003.76 Q1331.60 1003.76 1331.60 1005.38 L1331.60 1023.74" fill="none" stroke="#4a8fe2" stroke-width="1.0"/>
<path d="M1342.76 1028.24 L1379.30 1028.24 Q1381.30 1028.24 1381.30 1030.24 L1381.30 1036.24" fill="none" stroke="#4a8fe2" stroke-width="1.0"/>
<path d="M1320.05 1052.72 L1321.97 1052.72 Q1323.90 1052.72 1323.90 1054.65 L1323.90 1072.70" fill="none" stroke="#4a8fe2" stroke-width="1.0"/>
<line x1="1323.70" y1="1072.70" x2="1323.70" y2="1094.80" stroke="#8fb8f0" stroke-width="1.0"/>
<path d="M1330.57 1077.20 L1342.60 1077.20 Q1344.60 1077.20 1344.60 1079.20 L1344.60 1094.80" fill="none" stroke="#a9c9f2" stroke-width="1.3" style="mix-blend-mode:multiply"/>
<path d="M1201.10 251.80V259.00L1204.70 255.40Z" fill="#2a79d8"/>
<path d="M1237.60 137.78H1245.00L1241.30 141.38Z" fill="#2a79d8"/>
<path d="M1253.80 162.26H1261.20L1257.50 165.86Z" fill="#2a79d8"/>
<path d="M1253.80 186.74H1261.20L1257.50 190.34Z" fill="#2a79d8"/>
<path d="M1275.60 211.22H1283.00L1279.30 214.82Z" fill="#2a79d8"/>
<path d="M1278.50 211.22H1285.90L1282.20 214.82Z" fill="#2a79d8"/>
<path d="M1292.10 112.60H1299.50L1295.80 116.60Z" fill="#2a79d8"/>
<path d="M1220.90 265.70H1228.30L1224.60 269.30Z" fill="#e0444a"/>
<path d="M1233.50 290.18H1240.90L1237.20 293.48Z" fill="#e0444a"/>
<path d="M1237.60 290.18H1245.00L1241.30 293.48Z" fill="#e0444a"/>
<path d="M1201.10 306.40V313.60L1204.70 310.00Z" fill="#e0444a"/>
<path d="M1241.80 320.18H1249.20L1245.50 323.78Z" fill="#e0444a"/>
<path d="M1259.90 344.66H1267.30L1263.60 347.96Z" fill="#e0444a"/>
<path d="M1263.90 359.66H1271.30L1267.60 363.26Z" fill="#e0444a"/>
<path d="M1233.40 399.14H1238.60L1236.00 402.44Z" fill="#16365e"/>
<path d="M1236.70 399.14H1244.10L1240.40 402.44Z" fill="#e0444a"/>
<path d="M1233.50 454.80V462.00L1237.30 458.40Z" fill="#e0444a"/>
<path d="M1253.40 414.14H1260.80L1257.10 417.74Z" fill="#e0444a"/>
<path d="M1258.20 468.62H1265.60L1261.90 472.22Z" fill="#e0444a"/>
<path d="M1266.80 438.62H1274.20L1270.50 441.92Z" fill="#e0444a"/>
<path d="M1270.20 438.62H1277.60L1273.90 441.92Z" fill="#2a79d8"/>
<path d="M1276.00 508.10H1283.40L1279.70 511.70Z" fill="#2a79d8"/>
<path d="M1261.60 468.62H1269.00L1265.30 472.22Z" fill="#e0444a"/>
<path d="M1276.80 493.10H1284.20L1280.50 496.40Z" fill="#e0444a"/>
<path d="M1279.70 508.10H1287.10L1283.40 511.70Z" fill="#e0444a"/>
<path d="M1236.70 547.58H1244.10L1240.40 551.18Z" fill="#e0444a"/>
<path d="M1253.40 572.06H1260.80L1257.10 575.66Z" fill="#2a79d8"/>
<path d="M1253.50 718.94H1260.90L1257.20 722.54Z" fill="#2a79d8"/>
<path d="M1266.80 596.54H1274.20L1270.50 600.14Z" fill="#2a79d8"/>
<path d="M1269.20 621.02H1276.60L1272.90 624.62Z" fill="#2a79d8"/>
<path d="M1270.00 596.54H1277.40L1273.70 600.14Z" fill="#2a79d8"/>
<path d="M1272.60 621.02H1280.00L1276.30 624.62Z" fill="#2a79d8"/>
<path d="M1297.90 645.50H1305.30L1301.60 649.10Z" fill="#2a79d8"/>
<path d="M1314.60 669.98H1322.00L1318.30 673.58Z" fill="#2a79d8"/>
<path d="M1317.00 694.46H1324.40L1320.70 698.06Z" fill="#2a79d8"/>
<path d="M1269.90 743.42H1277.30L1273.60 747.02Z" fill="#2a79d8"/>
<path d="M1269.90 890.30H1277.30L1273.60 893.60Z" fill="#2a79d8"/>
<path d="M1285.00 767.90H1292.40L1288.70 771.50Z" fill="#2a79d8"/>
<path d="M1286.70 767.90H1294.10L1290.40 771.50Z" fill="#2a79d8"/>
<path d="M1289.30 792.38H1296.70L1293.00 795.98Z" fill="#2a79d8"/>
<path d="M1286.40 792.38H1293.80L1290.10 795.98Z" fill="#2a79d8"/>
<path d="M1314.40 816.86H1321.80L1318.10 820.46Z" fill="#2a79d8"/>
<path d="M1330.70 841.34H1338.10L1334.40 844.94Z" fill="#2a79d8"/>
<path d="M1333.70 865.82H1341.10L1337.40 869.42Z" fill="#2a79d8"/>
<path d="M1286.70 905.30H1294.10L1290.40 908.60Z" fill="#2a79d8"/>
<path d="M1286.70 920.30H1294.10L1290.40 923.60Z" fill="#2a79d8"/>
<path d="M1286.70 950.30H1294.10L1290.40 953.90Z" fill="#2a79d8"/>
<path d="M1283.40 950.30H1290.80L1287.10 953.90Z" fill="#2a79d8"/>
<path d="M1308.20 935.30H1315.60L1311.90 938.60Z" fill="#2a79d8"/>
<path d="M1312.10 935.30H1319.50L1315.80 938.60Z" fill="#2a79d8"/>
<path d="M1303.30 974.78H1310.70L1307.00 978.38Z" fill="#2a79d8"/>
<path d="M1303.30 999.26H1310.70L1307.00 1002.86Z" fill="#2a79d8"/>
<path d="M1303.30 1048.22H1310.70L1307.00 1051.82Z" fill="#2a79d8"/>
<path d="M1324.90 1023.74H1332.30L1328.60 1027.34Z" fill="#2a79d8"/>
<path d="M1327.90 1023.74H1335.30L1331.60 1027.34Z" fill="#2a79d8"/>
<path d="M1320.20 1072.70H1327.60L1323.90 1076.30Z" fill="#2a79d8"/>
<rect x="1183.50" y="112.70" width="64.30" height="9.20" fill="#ffffff" stroke="#ff8a8a" stroke-width="1.1"/>
<line x1="1249.00" y1="112.20" x2="1249.00" y2="123.00" stroke="#ffb0b0" stroke-width="1.6"/>
</g>
<text x="190.80" y="1132.00" font-size="7.07" textLength="21.22" lengthAdjust="spacingAndGlyphs" class="lg">Critical</text>
<rect x="252.40" y="1125.00" width="64.70" height="3.50" fill="#ffb6b6"/>
<text x="326.40" y="1132.00" font-size="7.07" textLength="13.18" lengthAdjust="spacingAndGlyphs" class="lg">Task</text>
<rect x="254.90" y="1141.00" width="1.00" height="2.00" fill="#ff1a1a"/>
<rect x="259.23" y="1141.00" width="1.00" height="2.00" fill="#ff1a1a"/>
<rect x="263.56" y="1141.00" width="1.00" height="2.00" fill="#ff1a1a"/>
<rect x="267.89" y="1141.00" width="1.00" height="2.00" fill="#ff1a1a"/>
<rect x="272.21" y="1141.00" width="1.00" height="2.00" fill="#ff1a1a"/>
<rect x="276.54" y="1141.00" width="1.00" height="2.00" fill="#ff1a1a"/>
<rect x="280.87" y="1141.00" width="1.00" height="2.00" fill="#ff1a1a"/>
<rect x="285.20" y="1141.00" width="1.00" height="2.00" fill="#ff1a1a"/>
<rect x="289.53" y="1141.00" width="1.00" height="2.00" fill="#ff1a1a"/>
<rect x="293.86" y="1141.00" width="1.00" height="2.00" fill="#ff1a1a"/>
<rect x="298.19" y="1141.00" width="1.00" height="2.00" fill="#ff1a1a"/>
<rect x="302.51" y="1141.00" width="1.00" height="2.00" fill="#ff1a1a"/>
<rect x="306.84" y="1141.00" width="1.00" height="2.00" fill="#ff1a1a"/>
<rect x="311.17" y="1141.00" width="1.00" height="2.00" fill="#ff1a1a"/>
<rect x="315.50" y="1141.00" width="1.00" height="2.00" fill="#ff1a1a"/>
<text x="326.40" y="1145.90" font-size="7.07" textLength="13.52" lengthAdjust="spacingAndGlyphs" class="lg">Split</text>
<rect x="252.40" y="1153.80" width="64.70" height="3.20" fill="#ff0000"/>
<rect x="388.00" y="1125.00" width="64.30" height="3.50" fill="#8cb8ea"/>
<rect x="390.80" y="1141.00" width="1.00" height="2.00" fill="#3c7ccc"/>
<rect x="395.08" y="1141.00" width="1.00" height="2.00" fill="#3c7ccc"/>
<rect x="399.36" y="1141.00" width="1.00" height="2.00" fill="#3c7ccc"/>
<rect x="403.64" y="1141.00" width="1.00" height="2.00" fill="#3c7ccc"/>
<rect x="407.91" y="1141.00" width="1.00" height="2.00" fill="#3c7ccc"/>
<rect x="412.19" y="1141.00" width="1.00" height="2.00" fill="#3c7ccc"/>
<rect x="416.47" y="1141.00" width="1.00" height="2.00" fill="#3c7ccc"/>
<rect x="420.75" y="1141.00" width="1.00" height="2.00" fill="#3c7ccc"/>
<rect x="425.03" y="1141.00" width="1.00" height="2.00" fill="#3c7ccc"/>
<rect x="429.31" y="1141.00" width="1.00" height="2.00" fill="#3c7ccc"/>
<rect x="433.59" y="1141.00" width="1.00" height="2.00" fill="#3c7ccc"/>
<rect x="437.86" y="1141.00" width="1.00" height="2.00" fill="#3c7ccc"/>
<rect x="442.14" y="1141.00" width="1.00" height="2.00" fill="#3c7ccc"/>
<rect x="446.42" y="1141.00" width="1.00" height="2.00" fill="#3c7ccc"/>
<rect x="450.70" y="1141.00" width="1.00" height="2.00" fill="#3c7ccc"/>
<rect x="388.00" y="1153.80" width="64.30" height="3.20" fill="#2f7bd2"/>
<text x="461.80" y="1145.90" font-size="7.07" textLength="30.06" lengthAdjust="spacingAndGlyphs" class="lg">Start-only</text>
<text x="461.80" y="1159.60" font-size="7.07" textLength="33.45" lengthAdjust="spacingAndGlyphs" class="lg">Finish-only</text>
<rect x="523.00" y="1125.00" width="65.00" height="3.50" fill="#7dcdd3"/>
<path d="M527.9 1139.9H523.8V1145.2H527.9" fill="none" stroke="#2a96a0" stroke-width="1.2"/>
<path d="M525.3 1154.1H529.3V1159.3H525.3" fill="none" stroke="#2a96a0" stroke-width="1.2"/>
<text x="597.20" y="1132.00" font-size="7.07" textLength="42.48" lengthAdjust="spacingAndGlyphs" class="lg">Duration-only</text>
<text x="597.20" y="1145.90" font-size="7.07" textLength="25.79" lengthAdjust="spacingAndGlyphs" class="lg">Baseline</text>
<rect x="658.90" y="1125.00" width="64.10" height="3.50" fill="#7dcdd3"/>
<rect x="658.90" y="1142.20" width="64.10" height="3.70" fill="#666666"/>
<rect x="661.90" y="1158.20" width="1.00" height="2.00" fill="#4a4a4a"/>
<rect x="666.20" y="1158.20" width="1.00" height="2.00" fill="#4a4a4a"/>
<rect x="670.50" y="1158.20" width="1.00" height="2.00" fill="#4a4a4a"/>
<rect x="674.80" y="1158.20" width="1.00" height="2.00" fill="#4a4a4a"/>
<rect x="679.10" y="1158.20" width="1.00" height="2.00" fill="#4a4a4a"/>
<rect x="683.40" y="1158.20" width="1.00" height="2.00" fill="#4a4a4a"/>
<rect x="687.70" y="1158.20" width="1.00" height="2.00" fill="#4a4a4a"/>
<rect x="692.00" y="1158.20" width="1.00" height="2.00" fill="#4a4a4a"/>
<rect x="696.30" y="1158.20" width="1.00" height="2.00" fill="#4a4a4a"/>
<rect x="700.60" y="1158.20" width="1.00" height="2.00" fill="#4a4a4a"/>
<rect x="704.90" y="1158.20" width="1.00" height="2.00" fill="#4a4a4a"/>
<rect x="709.20" y="1158.20" width="1.00" height="2.00" fill="#4a4a4a"/>
<rect x="713.50" y="1158.20" width="1.00" height="2.00" fill="#4a4a4a"/>
<rect x="717.80" y="1158.20" width="1.00" height="2.00" fill="#4a4a4a"/>
<rect x="722.10" y="1158.20" width="1.00" height="2.00" fill="#4a4a4a"/>
<text x="732.10" y="1145.90" font-size="7.07" textLength="30.91" lengthAdjust="spacingAndGlyphs" class="lg">Milestone</text>
<path d="M797.20 1125.00L800.20 1128.00L797.20 1131.00L794.20 1128.00Z" fill="#ffffff" stroke="#8a8a8a" stroke-width="0.9"/>
<path d="M797.20 1139.20L800.40 1142.40L797.20 1145.60L794.00 1142.40Z" fill="#444444"/>
<rect x="793.80" y="1156.20" width="65.00" height="3.80" fill="#808080"/>
<text x="867.60" y="1132.00" font-size="7.07" textLength="29.39" lengthAdjust="spacingAndGlyphs" class="lg">Summary</text>
<rect x="932.00" y="1125.40" width="59.70" height="1.60" fill="#383838"/>
<rect x="932.00" y="1125.40" width="1.70" height="6.00" fill="#383838"/>
<rect x="990.00" y="1125.40" width="1.70" height="6.00" fill="#383838"/>
<rect x="932.00" y="1139.60" width="59.70" height="1.60" fill="#383838"/>
<rect x="932.00" y="1139.60" width="1.70" height="6.00" fill="#383838"/>
<rect x="990.00" y="1139.60" width="1.70" height="6.00" fill="#383838"/>
<rect x="932.00" y="1154.40" width="59.70" height="1.00" fill="#b4b4b4"/>
<rect x="932.00" y="1153.60" width="1.60" height="6.00" fill="#a8a8a8"/>
<rect x="990.10" y="1153.60" width="1.60" height="6.00" fill="#a8a8a8"/>
<rect x="1065.00" y="1125.00" width="64.10" height="3.50" fill="#c8c8c8"/>
<path d="M1068.10 1139.40L1071.10 1142.40L1068.10 1145.40L1065.10 1142.40Z" fill="#a6a6a6" stroke="#7a7a7a" stroke-width="0.9"/>
<rect x="1065.30" y="1153.90" width="63.60" height="2.90" fill="#ffffff" stroke="#e2e2e2" stroke-width="0.8"/>
<text x="1138.10" y="1159.60" font-size="7.07" textLength="27.35" lengthAdjust="spacingAndGlyphs" class="lg">Deadline</text>
<path d="M1203.50 1125.00L1206.50 1128.00L1203.50 1131.00L1200.50 1128.00Z" fill="#ffffff" stroke="#d2d2d2" stroke-width="0.9"/>
<rect x="1202.30" y="1140.30" width="59.90" height="1.10" fill="#dcdcdc"/>
<rect x="1202.30" y="1139.60" width="1.60" height="6.00" fill="#dcdcdc"/>
<rect x="1260.60" y="1139.60" width="1.60" height="6.00" fill="#dcdcdc"/>
<path d="M1202.2 1153.6H1204.8V1156.6H1207.0L1203.5 1160.2L1200.0 1156.6H1202.2Z" fill="#5aa818"/>
<rect x="1338.60" y="1129.60" width="58.80" height="1.20" fill="#484848"/>
<rect x="1338.60" y="1125.00" width="1.40" height="5.80" fill="#484848"/>
<rect x="1396.00" y="1125.00" width="1.40" height="5.80" fill="#484848"/>
</svg>
</body>
</html>
